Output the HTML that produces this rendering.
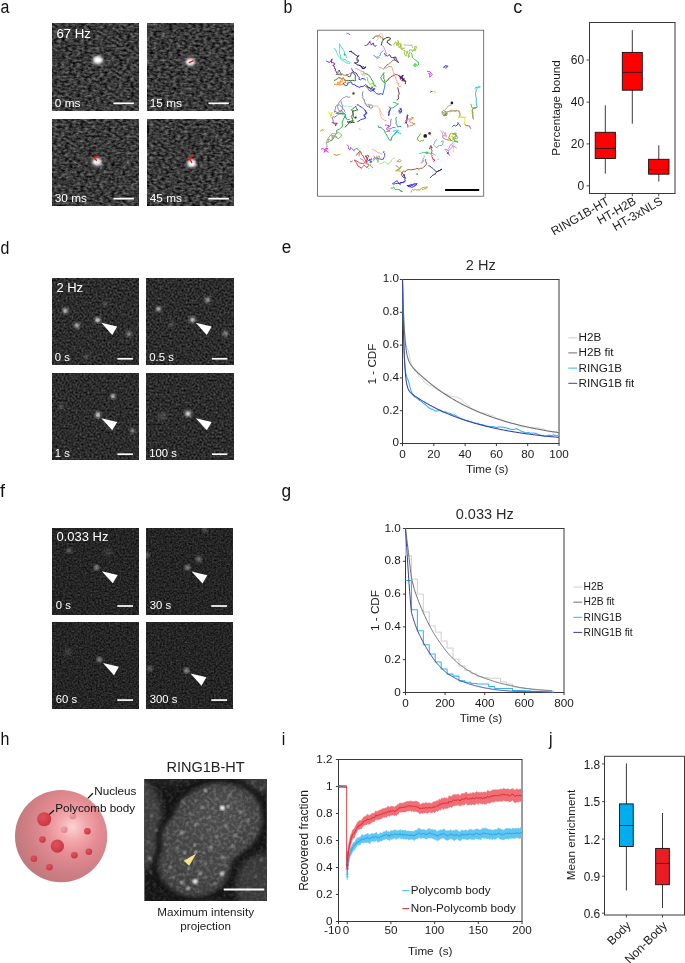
<!DOCTYPE html>
<html><head><meta charset="utf-8"><title>Figure</title>
<style>
html,body{margin:0;padding:0;background:#fff;}
body{width:685px;height:963px;overflow:hidden;font-family:"Liberation Sans",sans-serif;}
svg{display:block;font-family:"Liberation Sans",sans-serif;will-change:transform;}
</style></head><body>
<svg width="685" height="963" viewBox="0 0 685 963">
<rect width="685" height="963" fill="#fff"/>
<defs>
<filter id="nzA" x="0" y="0" width="100%" height="100%" color-interpolation-filters="sRGB">
<feTurbulence type="fractalNoise" baseFrequency="0.26 0.42" numOctaves="2" seed="3" result="t"/>
<feColorMatrix in="t" type="matrix" values="0.65 0 0 0 -0.10  0.65 0 0 0 -0.10  0.65 0 0 0 -0.10  0 0 0 0 1"/>
</filter>
<filter id="nzD" x="0" y="0" width="100%" height="100%" color-interpolation-filters="sRGB">
<feTurbulence type="fractalNoise" baseFrequency="0.5" numOctaves="2" seed="7" result="t"/>
<feColorMatrix in="t" type="matrix" values="0.44 0 0 0 -0.047  0.44 0 0 0 -0.047  0.44 0 0 0 -0.047  0 0 0 0 1"/>
</filter>
<filter id="nzF" x="0" y="0" width="100%" height="100%" color-interpolation-filters="sRGB">
<feTurbulence type="fractalNoise" baseFrequency="0.55" numOctaves="2" seed="11" result="t"/>
<feColorMatrix in="t" type="matrix" values="0.3 0 0 0 -0.005  0.3 0 0 0 -0.005  0.3 0 0 0 -0.005  0 0 0 0 1"/>
</filter>
<filter id="nzH" x="0" y="0" width="100%" height="100%" color-interpolation-filters="sRGB">
<feTurbulence type="fractalNoise" baseFrequency="0.3" numOctaves="2" seed="5" result="t"/>
<feColorMatrix in="t" type="matrix" values="0 0 0 0 1  0 0 0 0 1  0 0 0 0 1  2.2 0 0 0 -0.9"/>
<feGaussianBlur stdDeviation="0.7"/>
</filter>
<filter id="b1"><feGaussianBlur stdDeviation="1"/></filter>
<filter id="b15"><feGaussianBlur stdDeviation="1.5"/></filter>
<filter id="b2"><feGaussianBlur stdDeviation="2"/></filter>
<filter id="b3"><feGaussianBlur stdDeviation="3"/></filter>
<filter id="b08"><feGaussianBlur stdDeviation="0.8"/></filter>
<filter id="b06"><feGaussianBlur stdDeviation="0.6"/></filter>
<radialGradient id="sph" cx="72.3" cy="827" r="60" fx="72.3" fy="827" gradientUnits="userSpaceOnUse">
<stop offset="0" stop-color="#fbd3d3"/>
<stop offset="0.22" stop-color="#f3a9ad"/>
<stop offset="0.45" stop-color="#e58d94"/>
<stop offset="0.75" stop-color="#d07f85"/>
<stop offset="1" stop-color="#c0787c"/>
</radialGradient>
<radialGradient id="spot" cx="0.4" cy="0.35" r="0.7">
<stop offset="0" stop-color="#e0525c"/>
<stop offset="1" stop-color="#c63540"/>
</radialGradient>
<radialGradient id="spotp" cx="0.4" cy="0.35" r="0.7">
<stop offset="0" stop-color="#f2a0a6"/>
<stop offset="1" stop-color="#e07f88"/>
</radialGradient>
</defs>
<text transform="translate(0.4 13.1) scale(0.84 1)" font-size="19" fill="#111">a</text>
<text transform="translate(283.4 13.1) scale(0.84 1)" font-size="19" fill="#111">b</text>
<text transform="translate(513.3 13.1) scale(0.95 1)" font-size="19" fill="#111">c</text>
<text transform="translate(0.4 253.5) scale(0.84 1)" font-size="19" fill="#111">d</text>
<text transform="translate(281.8 253.3) scale(0.9 1)" font-size="19" fill="#111">e</text>
<text transform="translate(0 497.1) scale(0.95 1)" font-size="19" fill="#111">f</text>
<text transform="translate(281.6 497.3) scale(0.91 1)" font-size="19" fill="#111">g</text>
<text transform="translate(0.4 745) scale(0.84 1)" font-size="19" fill="#111">h</text>
<text transform="translate(281.7 745) scale(0.84 1)" font-size="19" fill="#111">i</text>
<text transform="translate(549 745) scale(0.84 1)" font-size="19" fill="#111">j</text>
<rect x="52" y="23.7" width="87" height="86.6" fill="#000" stroke="none" stroke-width="0.7" filter="url(#nzA)"/>
<text x="54.8" y="106.7" font-size="11.8" text-anchor="start" fill="#fff">0 ms</text>
<line x1="113.4" y1="103.3" x2="133.9" y2="103.3" stroke="#fff" stroke-width="1.75"/>
<rect x="147" y="23.7" width="87" height="86.6" fill="#000" stroke="none" stroke-width="0.7" filter="url(#nzA)"/>
<text x="149.8" y="106.7" font-size="11.8" text-anchor="start" fill="#fff">15 ms</text>
<line x1="208.4" y1="103.3" x2="228.9" y2="103.3" stroke="#fff" stroke-width="1.75"/>
<rect x="52" y="119.06" width="87" height="86.6" fill="#000" stroke="none" stroke-width="0.7" filter="url(#nzA)"/>
<text x="54.8" y="202.06" font-size="11.8" text-anchor="start" fill="#fff">30 ms</text>
<line x1="113.4" y1="198.66" x2="133.9" y2="198.66" stroke="#fff" stroke-width="1.75"/>
<rect x="147" y="119.06" width="87" height="86.6" fill="#000" stroke="none" stroke-width="0.7" filter="url(#nzA)"/>
<text x="149.8" y="202.06" font-size="11.8" text-anchor="start" fill="#fff">45 ms</text>
<line x1="208.4" y1="198.66" x2="228.9" y2="198.66" stroke="#fff" stroke-width="1.75"/>
<text x="56.4" y="37.7" font-size="13.2" text-anchor="start" fill="#fff">67 Hz</text>
<ellipse cx="97.9" cy="60" rx="5.7" ry="4.6" fill="#fff" opacity="0.6" filter="url(#b15)"/>
<ellipse cx="97.9" cy="60" rx="3.9" ry="3" fill="#fff" filter="url(#b1)"/>
<ellipse cx="190.2" cy="62" rx="5.5" ry="4.3" fill="#fff" opacity="0.6" filter="url(#b15)"/>
<ellipse cx="190.2" cy="62" rx="3.7" ry="2.7" fill="#fff" filter="url(#b1)"/>
<ellipse cx="97" cy="161.8" rx="5.3" ry="4.4" fill="#fff" opacity="0.6" filter="url(#b15)"/>
<ellipse cx="97" cy="161.8" rx="3.5" ry="2.8" fill="#fff" filter="url(#b1)"/>
<ellipse cx="191.7" cy="163.4" rx="5.1" ry="4.5" fill="#fff" opacity="0.6" filter="url(#b15)"/>
<ellipse cx="191.7" cy="163.4" rx="3.3" ry="2.9" fill="#fff" filter="url(#b1)"/>
<path d="M189.2 62.7 L193 60.8" stroke="#f0141e" stroke-width="1.5" fill="none" stroke-linejoin="round" stroke-linecap="round"/>
<path d="M98 156.1 L94.2 158.2 L96.4 160.3" stroke="#f0141e" stroke-width="1.4" fill="none" stroke-linejoin="round" stroke-linecap="round"/>
<path d="M192.7 156.1 L189.2 158.2 L191.7 162.5" stroke="#f0141e" stroke-width="1.4" fill="none" stroke-linejoin="round" stroke-linecap="round"/>
<rect x="52" y="278.5" width="86.8" height="86" fill="#000" stroke="none" stroke-width="0.7" filter="url(#nzD)"/>
<text x="54.8" y="361.3" font-size="11.3" text-anchor="start" fill="#fff">0 s</text>
<line x1="117.4" y1="358.8" x2="132.9" y2="358.8" stroke="#fff" stroke-width="1.7"/>
<rect x="146.5" y="278.5" width="86.8" height="86" fill="#000" stroke="none" stroke-width="0.7" filter="url(#nzD)"/>
<text x="149.3" y="361.3" font-size="11.3" text-anchor="start" fill="#fff">0.5 s</text>
<line x1="211.9" y1="358.8" x2="227.4" y2="358.8" stroke="#fff" stroke-width="1.7"/>
<rect x="52" y="373.9" width="86.8" height="86" fill="#000" stroke="none" stroke-width="0.7" filter="url(#nzD)"/>
<text x="54.8" y="456.7" font-size="11.3" text-anchor="start" fill="#fff">1 s</text>
<line x1="117.4" y1="454.2" x2="132.9" y2="454.2" stroke="#fff" stroke-width="1.7"/>
<rect x="146.5" y="373.9" width="86.8" height="86" fill="#000" stroke="none" stroke-width="0.7" filter="url(#nzD)"/>
<text x="149.3" y="456.7" font-size="11.3" text-anchor="start" fill="#fff">100 s</text>
<line x1="211.9" y1="454.2" x2="227.4" y2="454.2" stroke="#fff" stroke-width="1.7"/>
<text x="56.4" y="291.9" font-size="13" text-anchor="start" fill="#fff">2 Hz</text>
<clipPath id="c48"><rect x="52" y="278.5" width="86.8" height="86"/></clipPath><g clip-path="url(#c48)">
<circle cx="65.3" cy="310.7" r="3.3" fill="#fff" opacity="0.32" filter="url(#b15)"/>
<circle cx="65.3" cy="310.7" r="1.7" fill="#fff" opacity="0.75" filter="url(#b08)"/>
<circle cx="77" cy="325.5" r="3.3" fill="#fff" opacity="0.29" filter="url(#b15)"/>
<circle cx="77" cy="325.5" r="1.7" fill="#fff" opacity="0.7" filter="url(#b08)"/>
<circle cx="97.7" cy="320" r="3.3" fill="#fff" opacity="0.42" filter="url(#b15)"/>
<circle cx="97.7" cy="320" r="1.5" fill="#fff" opacity="1" filter="url(#b08)"/>
<circle cx="129" cy="333.8" r="3.6" fill="#fff" opacity="0.21" filter="url(#b15)"/>
<circle cx="129" cy="333.8" r="1.4" fill="#fff" opacity="0.5" filter="url(#b08)"/>
<circle cx="86" cy="356.5" r="3.5" fill="#fff" opacity="0.08" filter="url(#b15)"/>
<circle cx="86" cy="356.5" r="1.5" fill="#fff" opacity="0.2" filter="url(#b08)"/>
<circle cx="105" cy="303.5" r="4" fill="#fff" opacity="0.05" filter="url(#b15)"/>
<circle cx="105" cy="303.5" r="2" fill="#fff" opacity="0.12" filter="url(#b08)"/>
<polygon points="101.3,322.8 112.28,334.9 117.2,326.54" fill="#fff"/>
</g>
<clipPath id="c63"><rect x="146.5" y="278.5" width="86.8" height="86"/></clipPath><g clip-path="url(#c63)">
<circle cx="158.5" cy="309" r="3.3" fill="#fff" opacity="0.27" filter="url(#b15)"/>
<circle cx="158.5" cy="309" r="1.7" fill="#fff" opacity="0.65" filter="url(#b08)"/>
<circle cx="207.5" cy="300" r="3.5" fill="#fff" opacity="0.25" filter="url(#b15)"/>
<circle cx="207.5" cy="300" r="1.5" fill="#fff" opacity="0.6" filter="url(#b08)"/>
<circle cx="192.5" cy="319.8" r="3.3" fill="#fff" opacity="0.4" filter="url(#b15)"/>
<circle cx="192.5" cy="319.8" r="1.5" fill="#fff" opacity="0.95" filter="url(#b08)"/>
<circle cx="225.5" cy="333.5" r="3.6" fill="#fff" opacity="0.21" filter="url(#b15)"/>
<circle cx="225.5" cy="333.5" r="1.5" fill="#fff" opacity="0.5" filter="url(#b08)"/>
<circle cx="171.5" cy="324.5" r="3.6" fill="#fff" opacity="0.08" filter="url(#b15)"/>
<circle cx="171.5" cy="324.5" r="1.6" fill="#fff" opacity="0.2" filter="url(#b08)"/>
<polygon points="195.8,322.8 206.78,334.9 211.7,326.54" fill="#fff"/>
</g>
<clipPath id="c76"><rect x="52" y="373.9" width="86.8" height="86"/></clipPath><g clip-path="url(#c76)">
<circle cx="113" cy="396.4" r="2.8" fill="#fff" opacity="0.38" filter="url(#b15)"/>
<circle cx="113" cy="396.4" r="1.3" fill="#fff" opacity="0.9" filter="url(#b08)"/>
<circle cx="98" cy="414.9" r="3.3" fill="#fff" opacity="0.4" filter="url(#b15)"/>
<circle cx="98" cy="414.9" r="1.6" fill="#fff" opacity="0.95" filter="url(#b08)"/>
<circle cx="132.5" cy="430.9" r="3.2" fill="#fff" opacity="0.21" filter="url(#b15)"/>
<circle cx="132.5" cy="430.9" r="1.3" fill="#fff" opacity="0.5" filter="url(#b08)"/>
<circle cx="61" cy="405.9" r="4" fill="#fff" opacity="0.06" filter="url(#b15)"/>
<circle cx="61" cy="405.9" r="2" fill="#fff" opacity="0.15" filter="url(#b08)"/>
<polygon points="101.3,418.2 112.28,430.3 117.2,421.94" fill="#fff"/>
</g>
<clipPath id="c87"><rect x="146.5" y="373.9" width="86.8" height="86"/></clipPath><g clip-path="url(#c87)">
<circle cx="188" cy="413.7" r="3.6" fill="#fff" opacity="0.42" filter="url(#b15)"/>
<circle cx="188" cy="413.7" r="1.7" fill="#fff" opacity="1" filter="url(#b08)"/>
<circle cx="162.5" cy="415.9" r="6" fill="#fff" opacity="0.05" filter="url(#b15)"/>
<circle cx="162.5" cy="415.9" r="3" fill="#fff" opacity="0.12" filter="url(#b08)"/>
<polygon points="195.8,418.2 206.78,430.3 211.7,421.94" fill="#fff"/>
</g>
<rect x="52" y="528" width="86.9" height="86.6" fill="#000" stroke="none" stroke-width="0.7" filter="url(#nzF)"/>
<text x="55.8" y="609.2" font-size="11.3" text-anchor="start" fill="#fff">0 s</text>
<line x1="117.3" y1="606" x2="133" y2="606" stroke="#fff" stroke-width="1.7"/>
<rect x="146" y="528" width="86.9" height="86.6" fill="#000" stroke="none" stroke-width="0.7" filter="url(#nzF)"/>
<text x="149.8" y="609.2" font-size="11.3" text-anchor="start" fill="#fff">30 s</text>
<line x1="211.3" y1="606" x2="227" y2="606" stroke="#fff" stroke-width="1.7"/>
<rect x="52" y="622.07" width="86.9" height="86.6" fill="#000" stroke="none" stroke-width="0.7" filter="url(#nzF)"/>
<text x="55.8" y="703.27" font-size="11.3" text-anchor="start" fill="#fff">60 s</text>
<line x1="117.3" y1="700.07" x2="133" y2="700.07" stroke="#fff" stroke-width="1.7"/>
<rect x="146" y="622.07" width="86.9" height="86.6" fill="#000" stroke="none" stroke-width="0.7" filter="url(#nzF)"/>
<text x="149.8" y="703.27" font-size="11.3" text-anchor="start" fill="#fff">300 s</text>
<line x1="211.3" y1="700.07" x2="227" y2="700.07" stroke="#fff" stroke-width="1.7"/>
<text x="56.4" y="541.2" font-size="13" text-anchor="start" fill="#fff">0.033 Hz</text>
<clipPath id="c107"><rect x="52" y="528" width="86.9" height="86.6"/></clipPath><g clip-path="url(#c107)">
<circle cx="69" cy="550.5" r="2.6" fill="#fff" opacity="0.3" filter="url(#b15)"/>
<circle cx="96.5" cy="567.5" r="2.6" fill="#fff" opacity="0.5" filter="url(#b15)"/>
<circle cx="108" cy="552" r="4" fill="#fff" opacity="0.1" filter="url(#b15)"/>
<polygon points="101.8,571.2 112.78,583.3 117.7,574.94" fill="#fff"/>
</g>
<clipPath id="c113"><rect x="146" y="528" width="86.9" height="86.6"/></clipPath><g clip-path="url(#c113)">
<circle cx="187.5" cy="567.5" r="2.6" fill="#fff" opacity="0.5" filter="url(#b15)"/>
<circle cx="199" cy="559" r="2.6" fill="#fff" opacity="0.42" filter="url(#b15)"/>
<circle cx="147" cy="555" r="2.6" fill="#fff" opacity="0.3" filter="url(#b15)"/>
<circle cx="205" cy="529.5" r="2.6" fill="#fff" opacity="0.25" filter="url(#b15)"/>
<polygon points="191.5,571.5 202.48,583.6 207.4,575.24" fill="#fff"/>
</g>
<clipPath id="c120"><rect x="52" y="622.07" width="86.9" height="86.6"/></clipPath><g clip-path="url(#c120)">
<circle cx="99.5" cy="659.57" r="2.6" fill="#fff" opacity="0.5" filter="url(#b15)"/>
<circle cx="68" cy="652.07" r="4" fill="#fff" opacity="0.1" filter="url(#b15)"/>
<polygon points="103,663.07 113.98,675.17 118.9,666.81" fill="#fff"/>
</g>
<clipPath id="c125"><rect x="146" y="622.07" width="86.9" height="86.6"/></clipPath><g clip-path="url(#c125)">
<circle cx="186.5" cy="670.57" r="2.6" fill="#fff" opacity="0.55" filter="url(#b15)"/>
<circle cx="150" cy="668.57" r="2.6" fill="#fff" opacity="0.3" filter="url(#b15)"/>
<polygon points="190.5,673.57 201.48,685.67 206.4,677.31" fill="#fff"/>
</g>
<rect x="317.6" y="30.2" width="166.1" height="166" fill="none" stroke="#555" stroke-width="0.8"/>
<g fill="none" stroke-width="0.95" stroke-linejoin="round" stroke-linecap="round">
<path d="M346.93 33.26 L347.66 33.45 L348.5 33.78 L349.82 34.57" stroke="#9b30ff"/>
<path d="M334.71 48.37 L335.32 49.95 L335.97 50.42 L336.81 52.21 L337.25 53.66 L338.08 55.38 L338.65 56.25 L339.78 57.39 L340.12 58.05 L341.28 59.53 L342.36 60.75 L343.26 60.94 L344.44 61.15 L345.22 62.42 L346.5 63.05 L348.35 63.21 L349.42 63.74 L350.21 62.42 L349.13 62.08 L348.06 61.12 L346.53 61.11 L345.65 59.79 L343.35 59.39 L343.25 58.88 L341.59 58.75 L340.62 57.96 L340.61 56.23 L340.42 55.05 L339.8 54.06 L339.61 53.22 L339.31 51.65 L339.63 50.21 L339.71 48.68 L339.31 46.65 L339.44 45.53 L339.7 43.77 L340.35 45.97 L340.88 45.98 L341.93 47.71 L342.88 49.56 L343.44 50.65 L344.45 51.61 L344.56 52.96 L344.51 53.91 L345.91 54.71 L346.05 56.51 L346.53 57.56" stroke="#40e0b0"/>
<path d="M349.42 51.65 L350.16 51.6 L351.13 50.99 L352.45 52.97 L353.56 52.95 L354.42 54.28 L355.08 54.62 L356.53 55.38 L357.04 56.25 L358 56.2 L359.02 55.59 L358.08 56.57 L357 57.37 L357.04 58.88 L357.05 60.22 L357.94 61.23 L357.7 62.42 L356.71 62.62 L355.92 63.03 L354.42 62.82 L355.4 63.09 L356.51 64.28 L357.04 64.79 L358.82 65.22 L360.41 65.53 L360.99 66.1 L362.25 66.8 L362.3 67.42 L363.2 66.77 L364.43 67.52 L365.58 66.76 L365.24 68.01 L364.27 68.73 L362.05 68.34 L361.64 67.42 L360.87 66.22 L359.67 65.45" stroke="#1a0a5a"/>
<path d="M326.56 61.11 L327.77 61.77 L329.45 62.42 L330.98 60.84 L331.04 60.58 L332.08 58.88 L331.69 60.05 L331.68 61.03 L331.42 62.82 L332.6 62.49 L333.95 63.08 L334.71 63.21 L334.59 64.44 L332.74 65.45 L334.11 65.94 L334.45 67.42 L334.71 68.63 L335.72 68.97 L335.37 70.7 L336.4 71.91 L336.68 72.67" stroke="#5a20c0"/>
<path d="M336.68 74.25 L337.92 73.47 L338.01 71.95 L338.18 71.17 L339.31 70.04 L339.89 71.96 L340.39 72.47 L340.68 73.34 L341.93 74.64 L340.72 74.86 L339.86 74.43 L337.57 74.52 L336.68 74.25" stroke="#2a6a2a"/>
<path d="M334.45 80.29 L335.69 79.82 L336.28 79.41 L337.63 78.59 L338.65 77.66 L340.67 78.2 L341.82 79.1 L343.25 78.58 L344.44 79.13 L345.48 80.46 L346.53 80.56 L348.11 80.75 L350.05 80.36 L350.48 80.67 L352.75 80.32 L354.53 80.79 L355.73 80.56 L355.19 79.27 L355.33 77.04 L355.41 76.1 L355.07 74.64 L353.91 73.97 L353.51 72.67 L352.45 72.02 L351.94 73.55 L350.86 74.46 L350.48 76.33 L349.82 76.61 L348.02 76.44 L347.51 75.7 L346.53 75.3" stroke="#2a6a2a"/>
<path d="M334.45 84.23 L336.57 84.32 L338.1 84.24 L338.65 84.5 L339.88 83.43 L340.58 82.77 L341.93 81.87 L342.27 80.41 L342.01 79.56 L343.25 77.27 L343.84 79.25 L344.56 79.9 L344.84 81 L345.88 81.87 L346.2 82.2 L343.56 82.98 L343.25 83.84 L342.33 84.54 L341.55 84.62 L339.96 85.15 L338.48 84.33 L338.68 84.02 L337.34 83.18 L337.58 82.35 L339.84 82.35 L340.51 80.84 L341.28 79.9" stroke="#ff7f0e"/>
<path d="M336.02 74.64 L336.86 74.16 L338.67 74.51 L340.18 73.97 L341.28 73.99 L342.37 74.13 L343.9 75.11 L345.88 75.3 L346.31 74.52 L348.68 74.56 L349.82 73.33 L350.94 73.27 L351.86 72.17 L353.1 72.02" stroke="#c07070"/>
<path d="M343.25 83.18 L343.87 84.64 L345.38 85.12 L345.88 85.81 L347.8 84.7 L347.43 83.74 L347.85 82.53 L348.75 83.08 L349.82 81.87 L351.49 82.21 L351.86 83.78 L353.1 84.5 L354.71 84.64 L354.87 85.09 L357.02 86.43 L358.49 86.83 L359.67 87.78 L360.39 86.36 L362.16 86.61 L363.6 86.11 L364.33 85.67 L365.58 84.5 L366.52 85.07 L367.36 85.92 L367.72 87.02 L369.53 87.78 L370.72 88.3 L371.44 89.24 L372.81 89.75 L374.45 89.11 L374.78 88.44 L373.93 89.53 L373.47 91.07 L374.54 91.46 L375.61 92.84 L376.75 93.69 L378.93 94.22 L380.1 93.75 L381.44 93.75 L382.67 94.35" stroke="#3030f0"/>
<path d="M382.67 94.35 L383.22 92.98 L383.25 92.05 L383.98 89.75 L384.46 87.72 L384.71 86.97 L384.77 85.99 L385.18 83.72 L385.29 83.18" stroke="#2070e0"/>
<path d="M351.79 68.73 L352.22 70.34 L354.04 72.08 L354.42 72.67 L356.2 72.99 L356.9 74.13 L357.7 75.96 L359.19 77.37 L359.02 79.35 L360.33 79.9 L361.89 78.52 L362.96 78.58 L364.38 78.96 L365.58 79.9" stroke="#3030f0"/>
<path d="M366.9 86.47 L368.04 87.17 L369.61 87.68 L370.18 89.1 L371.29 88.8 L372.15 87.12 L372.5 88.08 L373.54 88.61 L374.12 89.75 L373.28 90.01 L371.58 90.86 L370.84 90.41" stroke="#3030f0"/>
<path d="M366.9 77.27 L367.64 78.74 L367.53 80.04 L368.21 81.87 L369.34 82.69 L369.7 83.55 L370.18 84.5 L371.51 84.02 L372.66 83.55 L373.47 83.18 L374.44 84.31 L374.74 84.61 L375.44 85.81 L373.77 85.75 L372.44 86.58 L371.5 86.47" stroke="#80e020"/>
<path d="M364.27 72.67 L365.4 73.93 L367.44 74 L367.13 74.5 L368.87 75.3 L369.63 75.79 L370.35 77.51 L371.06 78.16 L371.73 80.18 L372.81 80.56 L372.97 81.55 L373.11 83.55 L373.47 84.5 L374.08 85.34 L375.5 86.1 L376.1 86.47" stroke="#30a040"/>
<path d="M365.58 86.47 L366.99 87.13 L367.77 87.92 L368.21 89.1 L368.94 90.43 L370.28 90.85 L370.84 91.72" stroke="#8a6a20"/>
<path d="M334.71 112.09 L334.65 110.99 L335.26 109.11 L335.64 108.24 L335.48 106.97 L336.68 105.52 L337.57 104.31 L338.72 103.78 L338.91 102.31 L339.96 101.58 L341.05 100.02 L341.48 99.37 L342.45 98.7 L343.25 97.64 L344.36 97.63 L345.53 96.64 L346.53 96.32 L347.17 96.82 L348.92 97.31 L349.82 96.98" stroke="#9080c0"/>
<path d="M341.28 101.58 L341.32 102.9 L341.91 104.17 L342.27 104.87 L342.59 106.83 L342.41 108.4 L342.04 110.32 L340.99 110.76 L340.62 112.09 L339.8 111.51 L338.32 109.65 L337.6 107.17 L337.34 106.83 L337.55 105.32 L339.31 104.86 L340.7 105.68 L341.19 106.72 L342.5 107.89 L343.25 109.46 L344.41 109.96 L344.27 111.26 L345.22 112.09" stroke="#9080c0"/>
<path d="M343.25 105.52 L344.79 106.5 L346.36 105.94 L347.85 106.83 L348.95 106.4 L350.75 106.54 L351.79 106.18" stroke="#b0e0e0"/>
<path d="M328.8 112.09 L329.41 113.51 L329.91 114.23 L330.77 115.37 L331.27 114.86 L331.61 113.05 L332.08 112.09 L331.33 113.44 L331.16 114.41 L331.03 115.37 L330.31 116.76 L331.03 117.34" stroke="#e0e000"/>
<path d="M336.02 113.4 L336.83 113.17 L339.05 113.03 L339.93 113.63 L341.28 113.67 L342.21 114.53 L344.48 113.62 L345.22 114.72 L344.89 116.12 L345.16 116.76 L345.88 118" stroke="#20c040"/>
<path d="M351.13 110.12 L352.33 109.4 L353.35 108.18 L354.29 107.65 L355.73 106.18 L356.2 107.62 L356.85 108.84 L357.7 110.12 L356.32 110.22 L354.69 110.75 L354.3 110.7 L352.45 110.77 L352.89 112.41 L353.13 113.52 L353.02 115.04 L353.1 116.03 L353.79 116.65 L354.42 118" stroke="#2a6a2a"/>
<path d="M357.04 104.86 L358.37 104.8 L359.67 106.33 L360.99 106.83 L362.55 107.77 L363.53 108.58 L364.27 109.46 L364.76 110.24 L365.65 111.57 L366.9 113.4 L366.26 113.98 L365.36 114.74 L364.27 115.37 L365.32 117.09 L365.58 118" stroke="#3030f0"/>
<path d="M362.96 91.72 L362.55 93.1 L362.43 94.06 L362.72 96.61 L362.3 97.64 L362.95 98.6 L364.03 99.04 L364.34 101.14 L364.93 102.23 L365.37 104.08 L366.61 104.76 L366.9 106.18 L367.96 106.69 L368.89 106.99 L370.18 108.15 L372.02 107.88 L372.81 106.83 L372.13 105.43 L370.84 104.86 L370.32 105.29 L368.21 104.21 L368.94 105.18 L369.53 106.83" stroke="#7080a0"/>
<path d="M367.56 104.21 L368.54 104.69 L369.84 104.85 L371.91 104.62 L372.81 105.52 L374.89 106.44 L374.97 105.64 L376.65 106.11 L378.07 106.83 L378.84 107.17 L379.73 110.15 L380.69 110.77 L380.93 111.82 L381.44 113.32 L382.58 114.96 L383.32 115.37" stroke="#f0c0a0"/>
<path d="M393.18 102.23 L394.57 102.52 L396.01 102.9 L396.61 103.63 L398.43 103.94 L397.05 104.82 L395.95 105.37 L394.65 107.03 L392.76 107.84 L391.77 107.7 L390.55 108.8 L389.89 110.12" stroke="#20c060"/>
<path d="M389.23 106.83 L390.38 108.21 L390.19 109.77 L389.89 110.77 L388.82 112.35 L388.82 113.33 L388.58 115.37" stroke="#3030c0"/>
<path d="M399.09 112.09 L399.07 110.81 L400.63 109.61 L401.06 108.15 L401.16 109.16 L401.12 110.56 L401.72 112.09 L400.01 112.01 L399.09 112.09" stroke="#6060e0"/>
<path d="M397.77 87.78 L398.09 88.76 L398.34 90.12 L398.76 91.92 L399.09 93.04 L398.99 94.69 L398.13 95.85 L398.7 97.72 L398.43 98.95 L397.17 99.54 L397.12 100" stroke="#503030"/>
<path d="M383.98 72.67 L383.62 73.75 L382.3 75.14 L381.61 76.38 L380.69 77.27 L381.16 78.42 L381.27 79.4 L382.01 80.56 L383.36 81.35 L383.7 82.12 L384.64 83.18 L384.72 81.33 L384.54 79.76 L383.58 78.66 L383.81 77.16 L383.94 75.36 L383.32 73.99" stroke="#20a020"/>
<path d="M385.95 81.87 L386.99 80.43 L388.18 79.92 L388.58 78.58 L390.1 77.78 L390.91 76.71 L392.52 75.96 L394.02 75.51 L395.19 74.56 L396.46 74.64 L397.62 74.82 L398.24 75.46 L399.75 75.96" stroke="#d02020"/>
<path d="M399.09 75.96 L399.48 76.66 L401.6 76.81 L402.37 77.27 L401.01 77.9 L400.4 79.24 L401.66 78.1 L403.1 79.06 L404.34 78.58 L403.35 79.05 L402.66 80.03 L401.72 80.56 L403.23 80.78 L403.64 80.82 L405 81.21" stroke="#201080"/>
<path d="M378.72 66.76 L379.94 68.01 L380.9 67.67 L381.84 67.93 L383.32 69.39 L384.6 68.38 L385.15 67.65 L386.35 68.13 L387.92 67.42 L388.52 66.31 L390.18 66.41 L391.21 66.1 L391.86 67.53 L392.19 67.91 L392.64 69.74 L393.18 70.7 L393.17 71.47 L394.03 73.17 L393.83 74.64 L394.33 75.74 L395.54 76.93 L395.8 77.93 L396.01 79.5 L397.28 81.08 L397.05 81.44 L397.12 83.18 L399.2 83.82 L398.29 85.11 L399.09 86.47 L400.69 86.3 L401.06 85.81" stroke="#e0a080"/>
<path d="M383.98 68.07 L384.59 67.19 L386.49 65.98 L386.96 64.84 L388.58 64.13 L389.51 63.26 L390.57 62.66 L391.86 61.5 L392.82 60.19 L394.49 60.19" stroke="#708050"/>
<path d="M384.64 53.62 L385.34 55.12 L386.61 55.59 L387.48 56.26 L388.98 54.71 L389.89 54.93 L390.45 55.9 L391.2 57.59 L392.52 57.56 L393.24 57.6 L395.26 57.08 L395.8 56.91 L395.86 58.12 L396.82 59.87 L397.12 60.85 L397.8 61.3 L398.43 62.82 L397.35 61.47 L395.41 60.36 L395.15 59.53 L393.95 58.77 L393.83 57.56" stroke="#4a1a90"/>
<path d="M382.67 45.74 L384.06 47.54 L383.76 47.75 L384.64 49.02 L385.34 50.74 L385.35 51.6 L385.95 52.96 L386.57 54.02 L385.33 55.2 L385.29 56.25" stroke="#e070e0"/>
<path d="M373.86 55.59 L375.2 56.19 L376.1 57.56 L377.1 56.68 L378.18 57.4 L379.38 56.25 L380.32 54.9 L380.34 53.5 L381.35 52.31 L382.6 51.24 L383.06 50.6" stroke="#3090f0"/>
<path d="M376.75 58.88 L378.62 57.7 L379.38 57.56" stroke="#e080a0"/>
<path d="M364.93 45.34 L365.91 45.7 L366.35 45.18 L368.21 44.42 L368.17 43.29 L369.46 42.55 L370.18 41.14 L369.42 41.72 L370.84 43.78 L371.5 45.08 L372.14 44.01 L373.47 43.11 L373.46 44.05 L374.02 45.39 L374.78 46.39 L376.1 45.74" stroke="#6020c0"/>
<path d="M372.81 38.51 L374.02 38.07 L374.78 36.54 L375.63 36.2 L376.99 35.99 L378.07 35.88 L379.36 35.95 L380.84 36.85 L382.01 37.85 L382.3 38.24 L383.32 39.82" stroke="#607040"/>
<path d="M376.75 40.48 L377.69 39.28 L378.17 38.29 L377.58 36.62 L378.72 35.88 L379.67 34.72 L379.62 34.06 L380.69 33.26 L381.61 33.86 L382.67 35.23 L382.87 36.03 L383.32 37.2 L381.24 37.61 L380.82 38.13 L380.04 37.85 L379.38 36.16 L380.05 35.06 L379.38 34.57" stroke="#f0b090"/>
<path d="M381.35 45.08 L381.6 43.83 L382.21 41.5 L382.9 40.57 L383.32 39.17 L385.12 38.73 L385.95 37.85 L388.64 37.36 L389.01 37.71 L390.55 38.25 L390.1 39.61 L389.06 40.06 L387.6 40.63 L387 42.45 L388.7 43.3 L389 44.12 L390.44 44.79 L391.21 45.08" stroke="#303020"/>
<path d="M393.83 45.08 L393.87 43.71 L395.22 43.03 L395.8 41.8 L396.61 42.73 L396.73 45.26 L397.12 45.74 L397.55 44.75 L397.44 43.4 L398.3 41.84 L397.77 40.48 L398.5 41.59 L398.52 43.72 L398.28 45.24 L398.57 45.96 L399.09 47.71 L399.75 47.13 L400.52 45.44 L401.06 43.77 L400.95 45.11 L400.94 46.18 L401.87 47.69 L401.72 49.02 L403.36 48.51 L403.83 48.63 L405 47.71" stroke="#a0c030"/>
<path d="M355.73 68.73 L356.8 68.59 L358.85 69.76 L359.67 70.04 L360.16 70.5 L362.15 71.58 L363.61 71.36 L363.56 72.67 L363.71 74.02 L364.27 75.96" stroke="#c0a0b0"/>
<path d="M360.99 72.67 L361.38 73.44 L362.3 75.3 L362.7 74.03 L363.88 73.99" stroke="#f0c080"/>
<path d="M368.21 104.86 L368.61 105.78" stroke="#90e090"/>
<path d="M400 43.11 L399.76 44 L400.46 45.81 L400.52 47.73 L401.31 49.02 L402.39 49.3 L403.33 50.5 L404.6 50.34 L405.02 51.99 L404.27 53.04 L404.76 54.61 L405.91 56.25 L406.38 54.68 L406.77 53.23 L407.12 51.72 L407.23 50.99 L407.39 52.47 L407.96 53.57 L408.75 54.78 L408.11 55.2 L408.54 57.56 L409.48 55.85 L408.62 54.91 L409.8 52.87 L409.05 51.42 L409.85 49.68 L410.49 49.89 L412 50.18 L412.48 51.65 L413.35 50.51 L414.58 49.15 L414.45 47.71 L414.66 46.73 L416.42 46.39 L416.01 48.06 L415.92 48.72 L415.11 50.99 L414 50.7 L413.14 49.68" stroke="#90c030"/>
<path d="M403.94 44.42 L405.84 45.35 L406.42 45.28 L407.88 45.08 L409.85 45.45 L410.79 45.22 L411.82 44.82 L411.85 45.71 L412.48 47.71" stroke="#b0b0b0"/>
<path d="M411.17 52.96 L411.98 54.36 L412.03 55.81 L412.48 57.56 L413.43 58.53 L414.28 59.34 L415.77 60.19 L416.74 60.82 L417.24 61.8 L418.39 62.16 L418.89 63.03 L418.43 64.69 L417.74 65.45 L415.85 64.5 L415.74 64.43 L415.11 63.47 L415.4 64.75 L415.79 65.32 L415.77 66.76 L414.5 65.97 L413.8 66.1 L414.06 65.07 L414.45 64.13" stroke="#20d020"/>
<path d="M427.59 71.36 L428.97 71.41 L430.22 72.02 L431.22 73.24 L432.12 74.04 L432.19 74.64 L431.38 75.77 L430.67 76.15 L429.56 77.27 L429.75 76.61 L429.7 74.66 L428.64 73.33 L429.69 73.82 L430.48 73.99" stroke="#c030f0"/>
<path d="M443.36 67.42 L444.34 66.67 L445.33 65.45 L446.6 65.7 L447.96 66.1 L447.75 66.82 L446.23 67.75 L445.33 68.07 L444.73 67.53 L444.02 66.76 L445.3 66.1 L446.64 66.37" stroke="#5050e0"/>
<path d="M430.22 92.38 L431.19 91.49 L432.19 91.46" stroke="#7030d0"/>
<path d="M434.82 91.07 L435.21 92.38" stroke="#b0e040"/>
<path d="M474.89 88.44 L476.07 87.33 L477.43 87.41 L478.18 86.47 L479.4 86.63 L480.41 86.86 L479.49 87.78 L478.33 87.36 L476.86 88.44 L476.12 89.7 L476.34 91.04 L475.5 92.43 L475.55 93.69 L475.51 94.86 L475.94 96.77 L476.4 98.68 L476.35 100.12 L476.21 101.58 L476.21 102.54 L476.3 105.3 L476.78 105.44 L477.52 106.83 L476.4 107.05 L475.55 107.49" stroke="#20c0e0"/>
<path d="M470.95 104.21 L471.17 104.81 L471.45 106.3 L472.26 108.15 L473.75 107.67 L475.07 107.79 L476.86 107.49 L475.33 108.28 L474.09 108.45 L472.92 108.8 L472.2 110.59 L472.33 112.03 L472.26 113.4 L472.61 114.87 L472.78 116.32 L472.92 118" stroke="#909030"/>
<path d="M451.24 104.21 L450.6 105.55 L449.13 105.73 L447.37 106.91 L446.64 108.15 L445.63 109.24 L444.46 110.43 L443.89 110.14 L442.78 110.84 L442.04 112.75 L442.42 113.63 L443.13 114.81 L444.02 116.03" stroke="#b0a070"/>
<path d="M443.36 112.75 L444.52 112.19 L446.56 112.55 L446.87 112.24 L448.61 111.43 L449.31 110.89 L451.82 110.12 L452.77 110.27 L453.87 110.51 L455.13 110.58 L457.14 110.47 L457.78 111.14 L459.12 111.04 L459.19 111.97 L459.43 113.57 L459.95 114.42 L459.78 116.03" stroke="#b0a070"/>
<path d="M459.12 117.34 L460.27 117.47 L461.69 117.27 L463.06 117.08 L464.08 117.51 L465.69 117.34" stroke="#f0d020"/>
<path d="M400 76.61 L400.46 77.71 L401.83 77.44 L402.63 78.58 L403.72 79.63 L404.6 80.56 L403.57 80.67 L401.97 79.9" stroke="#d03020"/>
<path d="M400 77.93 L400.96 76.78 L401.96 75.8 L403.28 75.3 L402.56 76.5 L402.41 77.3 L401.97 78.58 L403 79.59 L404.41 79.94 L405.91 81.21 L405.53 82.43 L405.26 83.84" stroke="#201080"/>
<path d="M400 108.15 L400.38 109.45 L401.58 110.12 L401.44 111.12 L400.66 112.09" stroke="#3030e0"/>
<path d="M407.23 114.72 L407.41 116.01 L407.48 117.25 L407.62 118" stroke="#803090"/>
<path d="M411.82 117.34 L413.14 118" stroke="#f08040"/>
<path d="M400 86.47 L401.31 87.12" stroke="#f0c0a0"/>
<path d="M334.71 111.31 L336.43 111.78 L337.07 112.52 L337.99 112.63 L338.96 111.54 L340.53 110.72 L341.28 110.66 L342.94 111.97 L343.25 112.63 L341.92 113.3 L341.12 113.58 L338.62 114.37 L337.57 114.87 L336.33 115.96 L334.56 117.18 L332.95 116.74 L332.08 117.88 L332.66 119.34 L333.12 120.71 L333.39 122.48 L333.88 123.11 L334.89 124.43 L336.02 125.11" stroke="#9070c0"/>
<path d="M332.08 122.48 L333.21 122.94 L334.93 123.21 L336.36 123.27 L337.34 123.14 L336.97 123.82 L335.92 124.2 L335.37 125.77" stroke="#a02040"/>
<path d="M336.68 113.28 L338.37 113.11 L339.99 113.64 L340.9 113.14 L342.85 113.4 L344.56 113.68 L345.28 114.69 L345.88 116.57 L345.02 117.02 L343.31 119.03 L343.25 119.85 L342.49 121.09 L342.18 122.21 L342.31 124.03 L342.57 125.81 L341.93 127.08 L340.52 128.19 L339.73 128.88 L337.84 129.93 L336.68 130.37 L336.86 132.09 L336.37 133.67 L335.52 134.39 L334.71 136.28 L333.41 136.92 L332.32 137.37 L332.08 138.25" stroke="#20b030"/>
<path d="M344.56 116.57 L345.55 117.19 L346.08 117.81 L346.53 119.2 L347.66 119.72 L349.16 119.46" stroke="#20a090"/>
<path d="M353.1 111.31 L352.85 112.74 L353.09 114.43 L351.78 115.76 L351.79 116.57 L351.99 117.88 L352.67 119.6 L353.1 120.51 L351.2 121.01 L350.35 121.48 L348.59 121.88 L347.19 121.82 L348.37 122.39 L350.21 121.56 L351.68 122.29 L352.84 122.07 L354.42 122.48 L353.01 121.93 L352.43 122.05 L350.22 122.92 L349.16 122.48 L348.4 123.91 L347.77 124.66 L345.81 126.25 L345.22 127.08" stroke="#2a5a1a"/>
<path d="M364.93 110 L365.89 110.75 L365.76 112.22 L366.9 112.63 L366.02 112.98 L365.01 113.83 L363.61 115.26 L364.09 115.7 L364.69 116.69 L365.58 117.88 L364.04 118.65 L363.07 119.11 L362.06 119.22 L360.33 119.85 L359.05 120.91 L357.7 121.56" stroke="#3030f0"/>
<path d="M320.26 131.02 L321.89 130.38 L322.23 129.05 L323.08 130.29 L322.88 130.76 L323.93 129.71" stroke="#d0b020"/>
<path d="M359.15 128.79 L360.2 129.31" stroke="#90e050"/>
<path d="M326.82 147.45 L327.01 145.23 L326.72 144.46 L326.17 142.85 L326.68 141.5 L326.99 140.71 L327.97 138.83 L328.14 138.25 L329.21 136.89 L329.75 136.1 L330.97 134.55 L332.08 133.65 L333.1 133.98 L334.7 133.67 L336.02 134.31 L336.58 133.58 L337.93 132.59 L338.65 132.34 L339.71 133.34 L341.44 134.61 L341.28 136.28 L339.88 137.23 L338.75 138.34 L337.99 138.91 L337.58 137.88 L335.87 136.96 L334.71 136.28 L333.72 137.97 L333.08 138.23 L332.34 140.17 L330.77 140.88 L329.97 139.64 L328.8 138.91 L328.38 139.92 L328.1 141.41 L327.48 142.85 L327.82 142.28 L329.92 141.42 L330.98 140.16 L332.64 139.32 L333.39 138.25 L332.85 138.59 L332.02 136.56 L331.42 135.62 L333.4 135.64 L333.66 135.73 L335.57 136.84 L336.68 136.93" stroke="#90a070"/>
<path d="M321.31 149.15 L322.95 148.56 L324.42 149.45 L325.37 148.93 L327.03 148.98 L328.14 148.76 L327.29 148.57 L325.88 148.74 L324.85 149.42 L324.77 151.06 L324.2 152.31 L325.15 151.3 L326.17 150.07 L326.56 151.39 L328.14 152.04" stroke="#f020f0"/>
<path d="M334.05 154.41 L335.19 154.92 L336.68 155.33 L338.42 154.71 L339.31 154.67" stroke="#a09020"/>
<path d="M347.19 144.82 L348.3 146.18 L348.51 147.66 L348.69 148.99 L349.82 150.07 L350.17 149.15 L350.47 147.45 L351.38 148.13 L352.59 149.07 L352.99 149.84 L354.42 150.73" stroke="#a040f0"/>
<path d="M354.42 149.42 L356.21 148.72 L357.04 148.1 L357.53 149.36 L357.98 149.27 L359.51 151.13 L360.33 152.04 L359.97 153.02 L359.4 154.14 L359.02 155.99" stroke="#40c040"/>
<path d="M356.39 155.33 L357.46 153.73 L358.3 153.46 L358.68 152.17 L360.33 151.39 L361.38 153.29 L361.26 154.14 L362.11 154.82 L363.94 156.9 L363.78 158.04 L365.08 159.34 L365.58 160.58 L367.26 161.96 L366.09 162.77 L367.77 163.96 L368.87 165.18 L368.22 165.81 L367.14 167.45 L366.9 167.81 L366.25 166.68 L365.4 166.32 L364.27 165.18 L363.66 165.88 L362.38 167.14 L360.99 168.47 L360.44 167.25 L358.15 166.18 L357.35 164.94 L357.04 163.87 L356.15 162.4 L354.73 160.82 L354.42 159.93 L355.41 160.49 L357.53 161.51 L358.36 161.9 L359.49 162.88 L360.47 163.14 L362.23 163.47 L363.61 163.87 L364.73 162.3 L365.67 161.24 L367.16 159.81 L367.6 158.86 L367.55 157.82 L368.87 155.99 L367.37 155.14 L367 156.39 L365.58 155.99 L366.1 157.2 L367.17 158.88 L366.81 160.21 L367.56 161.24" stroke="#e03030"/>
<path d="M365.58 155.99 L365.93 156.92 L366.83 157.45 L367.6 159.9 L368.87 160.58 L369.33 159.72 L370.18 159.6 L371.5 158.61 L371.06 160.11 L370.58 160.8 L370.18 162.56 L370.8 162.55 L372.15 161.9 L371.26 161.32 L369.2 160.57 L369.53 159.27" stroke="#3070a0"/>
<path d="M350.21 161.24 L351.14 161.94 L352.45 160.98" stroke="#4090e0"/>
<path d="M372.55 149.15 L373.41 149.89 L374.9 150.27 L376.03 151.08 L376.75 152.04 L378.56 152.84 L379.57 152.75 L380.61 153.64 L382.01 154.02" stroke="#f0a0a0"/>
<path d="M383.98 151.39 L383.43 152.49 L384.77 153.53 L384.64 155.33 L384.68 156.4 L383.88 157.52 L383.32 159.27 L382.19 159.28 L381.13 159.46 L379.86 158.86 L378.07 158.61 L376.51 158.9 L375.38 158.01 L374.78 157.96" stroke="#4040e0"/>
<path d="M360.33 158.61 L361.7 159.44 L363.12 159.93 L363.61 160.58 L363.85 161.57 L365.43 162.64 L366.24 163.87" stroke="#d070e0"/>
<path d="M374.12 155.99 L374.44 157.42 L373.14 159.23 L373.47 160.58 L374.13 160.14 L375.76 157.86 L376.75 157.3" stroke="#d070e0"/>
<path d="M376.75 155.99 L377.43 158.2 L376.52 158.96 L377.72 159.99 L377.93 161.43 L378.07 162.56 L378.07 161.78 L378.08 160.67 L379.44 158.16 L379.12 157.84 L379.38 155.99 L378.21 156.58 L377.41 157.3" stroke="#a0b040"/>
<path d="M380.04 163.87 L381.03 163.82 L382.11 162.88 L383.69 162.31 L384.64 161.9 L385.62 162.26 L386.69 163.2 L388.58 164.53 L388.8 163.16 L390.44 162.36 L391.21 161.24 L391.99 159.76 L393.02 158.52 L394.49 157.96" stroke="#a0e080"/>
<path d="M370.18 164.53 L370.59 165.89 L371.4 166.72 L372.81 167.81" stroke="#40c040"/>
<path d="M380.04 110 L379.93 112.24 L379.62 112.7 L380.3 113.65 L380.68 115.31 L380.69 116.57 L381.16 117.61 L382.59 118.82 L383.32 119.2 L384.4 120.41 L385.95 120.51" stroke="#f0b0a0"/>
<path d="M389.23 110.66 L389.03 111.44 L389.17 113.69 L388.84 115.26" stroke="#3030e0"/>
<path d="M391.21 119.2 L390.71 120.87 L390.7 122.21 L390.68 123.42 L390.55 124.45 L390.15 125.95 L388.84 127.43 L388.58 128.39 L389.9 129.02 L391.39 128.42 L392.23 127.85 L393.87 127.42 L395.15 127.74" stroke="#7070c0"/>
<path d="M396.46 117.23 L395.85 118.66 L396.1 120.26 L396.39 121.51 L395.8 123.14 L396.72 124.4 L397.04 125.86 L397.77 127.08 L398.3 126.78 L400.4 126.42" stroke="#309090"/>
<path d="M385.29 125.11 L386.36 124.98 L387.2 125.38 L389.23 125.77 L387.65 127.19 L387.39 127.32 L386.61 129.05 L387.45 130 L388.57 130.26 L389.89 131.02 L388.66 131.19 L387.06 131.44 L386.61 131.68" stroke="#d030c0"/>
<path d="M378.07 125.77 L378.91 127.68 L380.09 127.17 L381.6 128.07 L382.37 128.59 L383.32 129.71 L384.73 130.78 L385.11 132.77 L385.67 133.65 L386.83 135.22 L387.01 136.35 L387.89 137.31 L388.82 139.37 L389.89 140.22 L391.29 140.16 L391.45 137.8 L391.89 137.68 L392.46 135.89 L393.83 134.96 L394.71 134.53 L395.64 133.19 L397.12 131.68" stroke="#20a050"/>
<path d="M393.18 131.02 L394.99 130.79 L395.98 130.11 L397.08 130.45 L398.43 130.37 L396.47 131.51 L396.6 131.69 L394.94 133.04 L394.49 134.31 L395.38 133.53 L396.32 132.61 L397.77 132.34 L399.21 132.81 L400.4 133.65" stroke="#20d0f0"/>
<path d="M397.12 161.24 L397.95 160.5 L399.04 159.87 L399.75 159.27 L400.73 160.3 L401.06 161.24 L400.08 161.72 L397.88 161.59 L397.12 161.24" stroke="#c0a080"/>
<path d="M395.8 165.84 L397.58 166.35 L397.98 167.46 L399.09 168.47 L400.13 168.01 L400.59 167.65 L401.72 166.5 L400.21 167.36 L399.74 169.08 L397.97 169.55 L397.07 169.57 L395.8 171.1 L396.97 170.64 L398.68 170.94 L400.4 171.1" stroke="#a0a020"/>
<path d="M401.72 172.41 L402.6 173.55 L403.63 174.73 L404.34 174.38 L403.27 175.67 L402.37 176.35 L403.84 177.58 L405 177.67" stroke="#802020"/>
<path d="M405 181.61 L403.38 182.42 L402.66 182.32 L400.54 183.28 L399.09 183.58 L397.61 183.3 L397.16 183.6 L395.81 183.54 L393.75 184.09 L392.52 183.84 L393.59 182.71 L394.55 182.37 L395.72 181.51 L397.12 180.69 L397.08 181.53 L398.69 182.59 L399.2 183.5 L400.4 184.89" stroke="#3030f0"/>
<path d="M391.21 188.18 L392.55 188.08 L393.83 186.86 L393.96 188.07 L395.15 189.49 L396.83 189.62 L397.74 189.32 L399.09 189.49 L400.19 190.11 L400.45 190.53 L402.37 191.46" stroke="#20c040"/>
<path d="M399.09 110 L399 111.37 L400.72 111.45 L401.06 112.63 L399.75 113.28" stroke="#7050e0"/>
<path d="M442.04 111.97 L443.01 114.22 L443.12 115.09 L444.02 115.91 L445.03 114.73 L445.35 113.51 L446.64 112.63 L447.97 111.42 L449.8 111.85 L451.25 111.48 L452.56 111.31 L455.01 110.63 L454.83 111.48 L457.39 110.78 L458.51 110.76 L459.12 111.05 L459.78 112.46 L460.3 114.49 L459.37 116.31 L459.78 116.57" stroke="#b0a070"/>
<path d="M458.47 117.23 L459.35 117.11 L461.78 116.95 L462.17 117.28 L463.9 117.37 L465.04 117.23 L464.62 118.75 L465.02 120.69 L464.77 121.09 L464.52 122.77 L464.38 124.45 L465.54 124.47 L465.69 125.77" stroke="#f0e020"/>
<path d="M472.26 110 L472.64 110.91 L473.08 112.92 L472.84 114.13 L472.92 115.26 L473.01 116.83 L473.34 118.16 L473.58 119.2" stroke="#90b030"/>
<path d="M452.56 126.42 L454.11 125.04 L455.43 126.12 L457.15 125.11 L458.03 123.84 L457.81 122.48 L458.64 123.67 L459.8 125.33 L460.44 126.42" stroke="#4040f0"/>
<path d="M465.69 125.11 L466.64 125.69 L468.32 125.77 L469.67 126.28 L470 127.69 L470.95 128.39" stroke="#9030f0"/>
<path d="M405.26 123.14 L405.97 121.67 L405.93 120.33 L406.72 119.36 L407 117.36 L407.03 116.81 L407.88 115.26 L407.16 116.66 L407.22 117.65 L407.11 119.83 L406.94 120.4 L406.57 121.82 L406.34 123.33 L407.66 124.68 L408 125.95 L407.88 127.08" stroke="#803090"/>
<path d="M407.88 119.85 L408.7 119.18 L410.71 118.81 L411.64 117.86 L413.14 117.23 L412.29 118.69 L411.55 119.44 L410.33 119.79 L409.2 121.17 L409.65 121.79 L411.34 122.63 L411.82 123.14 L413.13 122.79 L413.46 124 L415.11 123.8 L413.78 123.79 L412.82 124.88 L412.29 125.75 L409.85 125.77" stroke="#f08040"/>
<path d="M420.37 133.65 L419.84 134.78 L419.14 135.98 L417.85 137.55 L417.84 137.33 L417.08 139.56 L417.71 139.9 L419.21 140.86 L419.71 141.53 L421.59 140.49 L421.93 141.06 L423.65 140.22" stroke="#80a020"/>
<path d="M436.79 139.56 L435.72 140.31 L434.95 141.57 L434.53 143.44 L433.5 144.16 L433.78 145.15 L435.26 146.38 L436.13 147.45 L437.76 146.89 L438.54 145.81 L439.38 145.49 L441.39 145.38 L442.7 144.42 L442.78 144.12 L443.11 141.88 L443.36 140.88 L442.52 140.84 L441.39 141.53" stroke="#70a0f0"/>
<path d="M440.73 130.76 L441.47 131.08 L442.3 132.99 L442.78 134.13 L442.87 134.83 L444.02 136.28 L445.05 135.15 L444.66 133.81 L445.33 132.34 L445.92 134.61 L446.63 135.56 L446.64 136.93 L445.65 136.3 L444.96 133.98 L443.72 132.67 L443.36 131.68" stroke="#e090e0"/>
<path d="M442.7 135.62 L442.89 137.23 L443.36 138.25 L445.18 139.18 L446.37 139.55 L448.65 140.07 L449.27 140.22 L450.97 139.86 L451.18 140.37 L452.56 140.88 L450.22 140.03 L450.46 138.92 L448.61 138.25 L449.18 136.77 L449.41 136.06 L449.64 135.25 L450.58 133.65 L451.39 133.55 L453.46 133.78 L455.18 132.99 L456.13 133.35 L455.58 134.91 L456.96 136.37 L457.81 137.59 L456.73 138.5 L455.1 138.22 L454.53 139.56 L453.75 138.33 L452.74 137.13 L451.9 136.28" stroke="#909020"/>
<path d="M452.56 132.99 L453.8 134.43 L454.57 134.28 L456.5 135.62 L455.65 137.09 L454.23 136.89 L453.21 138.25 L453.6 139.33 L455.04 141.05 L457.55 141.29 L457.81 142.19 L456.9 141.93 L456.06 141.75 L454.53 141.53" stroke="#30b060"/>
<path d="M449.27 134.31 L450.61 134.17 L451.9 132.99 L452.36 135.23 L451.71 135.63 L452.21 137.58 L452.59 138.92 L452.55 140.07 L453.21 141.53 L454.22 143.73 L452.76 144.83 L453.92 146.08 L453.32 148.09 L453.87 149.42 L453.58 150.94 L453.21 152.04" stroke="#e0e040"/>
<path d="M452.56 142.85 L451.62 144.83 L450.46 144.85 L449.93 146.13 L449.63 147.56 L448.42 148.92 L447.9 149.58 L447.96 150.73 L446.75 150.02 L446.2 148.96 L444.67 149.42 L445.45 150.26 L447.11 152.37 L448.12 153.49 L448.03 154.21 L449.93 155.33 L448.53 154.53 L448.27 154.05 L447.3 153.36 L448.7 151.29 L448.73 150.17 L449.3 149.8 L450.87 148.69 L452.13 146.81 L452.56 145.47 L453.5 146.73 L454.92 146.77 L456.5 148.1" stroke="#d080f0"/>
<path d="M431.53 147.45 L431.04 148.94 L431.91 150.36 L431.84 151.82 L431.16 154.26 L431.27 154.67 L432.36 155.9 L431.74 156.36 L432.61 158.02 L432.85 159.27 L434.01 159.72 L434.82 159.93 L434.33 161.02 L433.5 161.24" stroke="#f02040"/>
<path d="M429.56 148.76 L430.12 147.39 L430.15 146.79 L430.88 145.47 L431.13 146.73 L432.19 147.45" stroke="#404040"/>
<path d="M419.71 153.36 L421.29 153.21 L422.04 152.42 L423.22 152.35 L424.97 152.66 L426.28 152.7 L427.24 153.16 L428.95 152.98 L430.43 153.49 L430.92 153.5 L432.85 153.36 L433.04 153.71 L434.98 154.93 L435.47 155.33" stroke="#50c0a0"/>
<path d="M424.31 155.99 L424.07 157.2 L423.86 157.7 L422.71 159.45 L422.34 160.58 L422.45 162.29 L421.02 163.21 L422.29 161.83 L423.63 161.2 L423.65 159.93" stroke="#b090e0"/>
<path d="M425.62 159.27 L425.68 161.69 L425.95 162.01 L426.93 163.87 L425.75 164.59 L424.95 166.16 L423.65 167.15 L422.38 168.2 L420.4 168.33 L419.39 168.7 L419.12 169.34 L417.01 168.35 L415.77 169.12 L414.31 169.24 L411.94 169.67 L410.69 170.07 L409.83 169.54 L407.88 169.78 L406.58 170.18 L405.08 171.94 L403.59 171.28 L402.63 171.75 L402.57 172.7 L401.51 173.44 L401.31 175.04 L402.75 176.29 L403.28 177.01" stroke="#a05030"/>
<path d="M428.91 165.84 L430.21 166.11 L431.35 167.64 L432.16 167.85 L433.39 168.89 L434.57 170.09 L435.53 171.24 L436.79 171.75 L438.08 171.3 L439.58 170.82 L440.36 169.65 L442.04 169.12 L441.08 169.71 L439.84 170.46 L438.1 170.7 L437.06 171.82 L436.25 172.64 L435.47 173.07 L435.13 174.4 L434.24 174.32 L432.11 175.72 L431.12 176.89 L430.22 177.67" stroke="#303060"/>
<path d="M404.6 175.04 L404.62 176.94 L405.3 178.15 L404.71 179.68 L405.26 180.95 L404.2 181.58 L402.64 182.47 L401.11 182.29 L400 182.92" stroke="#3020e0"/>
<path d="M407.23 185.55 L408.89 185.47 L410.37 184.88 L410.95 184.23 L412.69 184.72 L414.57 183.45 L415.88 183.83 L417.08 183.58 L415.7 185.23 L415.21 185.53 L415.1 185.82 L413.14 186.86 L411.67 187.26 L410.01 186.56 L409.21 186.74 L407.88 186.21 L409.46 185.64 L411.1 186.09 L411.75 185.29 L413.38 184.89 L415.4 184.99 L416.42 184.89" stroke="#3020e0"/>
<path d="M411.17 192.12 L411.72 190.41 L412.48 189.49 L413.78 190.19 L415.66 189.14 L416.44 190.13 L418.07 189.81 L419.71 190.15 L420.48 188.77 L421.93 188.25 L422.99 187.52 L424.96 187.28 L425.69 187.35 L427.59 186.86 L427.12 187.57 L425.62 188.83 L423.88 188.87 L422.92 189.9 L422.34 189.49" stroke="#c0a020"/>
<path d="M400 126.42 L401.05 126.69" stroke="#20a090"/>
<path d="M400 133.65 L400.79 133.65" stroke="#20d0f0"/>
<path d="M400 167.15 L401.31 166.5" stroke="#90c030"/>
<path d="M400 190.8 L400.46 191.01 L401.97 191.46" stroke="#20c040"/>
<path d="M444.02 113.94 L445.67 114.19 L446.01 113.47 L447.3 113.68 L446.9 114.51 L446.64 115.52 L446.09 115.33 L444.41 115.26 L444.68 115.24 L445.99 114.47" stroke="#40a040"/>
<path d="M444.67 111.31 L446.25 111.58" stroke="#40a0f0"/>
</g>
<circle cx="344.56" cy="54.67" r="0.92" fill="#4080f0"/>
<circle cx="353.5" cy="93.43" r="1.18" fill="#6b2a10"/>
<circle cx="358.36" cy="60.19" r="0.79" fill="#206040"/>
<circle cx="451.9" cy="102.89" r="1.31" fill="#101070"/>
<circle cx="355.73" cy="117.62" r="1.05" fill="#1a4a1a"/>
<circle cx="425.23" cy="135.88" r="1.84" fill="#102818"/>
<circle cx="429.56" cy="133.39" r="1.31" fill="#901050"/>
<circle cx="430.48" cy="134.96" r="0.53" fill="#80e080"/>
<circle cx="426.93" cy="152.7" r="1.31" fill="#20e020"/>
<circle cx="447.96" cy="153.1" r="0.79" fill="#101060"/>
<circle cx="438.1" cy="159.27" r="0.66" fill="#20d0f0"/>
<circle cx="417.08" cy="173.99" r="0.66" fill="#202020"/>
<circle cx="368.87" cy="168.47" r="0.53" fill="#20c0e0"/>
<line x1="445.1" y1="189.9" x2="479.2" y2="189.9" stroke="#000" stroke-width="2"/>
<line x1="589" y1="22.5" x2="675.5" y2="22.5" stroke="#383838" stroke-width="1"/>
<line x1="589" y1="193.5" x2="675.5" y2="193.5" stroke="#383838" stroke-width="1"/>
<line x1="589.5" y1="22.5" x2="589.5" y2="193.5" stroke="#383838" stroke-width="1"/>
<line x1="675" y1="22.5" x2="675" y2="193.5" stroke="#383838" stroke-width="1"/>
<line x1="586.6" y1="60" x2="589.5" y2="60" stroke="#383838" stroke-width="0.9"/>
<text x="584.2" y="64.3" font-size="12" text-anchor="end" fill="#1a1a1a">60</text>
<line x1="586.6" y1="102.1" x2="589.5" y2="102.1" stroke="#383838" stroke-width="0.9"/>
<text x="584.2" y="106.4" font-size="12" text-anchor="end" fill="#1a1a1a">40</text>
<line x1="586.6" y1="143.9" x2="589.5" y2="143.9" stroke="#383838" stroke-width="0.9"/>
<text x="584.2" y="148.2" font-size="12" text-anchor="end" fill="#1a1a1a">20</text>
<line x1="586.6" y1="185.8" x2="589.5" y2="185.8" stroke="#383838" stroke-width="0.9"/>
<text x="584.2" y="190.1" font-size="12" text-anchor="end" fill="#1a1a1a">0</text>
<line x1="605.3" y1="105.3" x2="605.3" y2="173.6" stroke="#151515" stroke-width="0.85"/>
<rect x="595.2" y="132.3" width="20.2" height="26.2" fill="#fe0000" stroke="#111" stroke-width="0.9"/>
<line x1="595.2" y1="148.5" x2="615.4" y2="148.5" stroke="#1a1a1a" stroke-width="0.8"/>
<line x1="632.3" y1="30.2" x2="632.3" y2="123.7" stroke="#151515" stroke-width="0.85"/>
<rect x="622.3" y="52.4" width="20" height="37.8" fill="#fe0000" stroke="#111" stroke-width="0.9"/>
<line x1="622.3" y1="72.4" x2="642.3" y2="72.4" stroke="#1a1a1a" stroke-width="0.8"/>
<line x1="658.8" y1="145.3" x2="658.8" y2="181.5" stroke="#151515" stroke-width="0.85"/>
<rect x="648.6" y="159.3" width="20.4" height="14.9" fill="#fe0000" stroke="#111" stroke-width="0.9"/>
<line x1="648.6" y1="169.6" x2="669" y2="169.6" stroke="#1a1a1a" stroke-width="0.8"/>
<line x1="605.3" y1="193.5" x2="605.3" y2="196.2" stroke="#383838" stroke-width="0.9"/>
<text x="610" y="203.5" font-size="12" text-anchor="end" fill="#1a1a1a" transform="rotate(-30 610 203.5)">RING1B-HT</text>
<line x1="632.3" y1="193.5" x2="632.3" y2="196.2" stroke="#383838" stroke-width="0.9"/>
<text x="637" y="203.5" font-size="12" text-anchor="end" fill="#1a1a1a" transform="rotate(-30 637 203.5)">HT-H2B</text>
<line x1="658.8" y1="193.5" x2="658.8" y2="196.2" stroke="#383838" stroke-width="0.9"/>
<text x="663.5" y="203.5" font-size="12" text-anchor="end" fill="#1a1a1a" transform="rotate(-30 663.5 203.5)">HT-3xNLS</text>
<text x="559.5" y="108" font-size="11.7" text-anchor="middle" fill="#1a1a1a" transform="rotate(-90 559.5 108)">Percentage bound</text>
<line x1="402" y1="279.5" x2="559.5" y2="279.5" stroke="#383838" stroke-width="1"/>
<line x1="402" y1="443.5" x2="559.5" y2="443.5" stroke="#383838" stroke-width="1"/>
<line x1="402.5" y1="279.5" x2="402.5" y2="443.5" stroke="#383838" stroke-width="1"/>
<line x1="559" y1="279.5" x2="559" y2="443.5" stroke="#383838" stroke-width="1"/>
<line x1="402.5" y1="443.5" x2="402.5" y2="446.1" stroke="#383838" stroke-width="1"/>
<text x="402.5" y="458" font-size="11.7" text-anchor="middle" fill="#1a1a1a">0</text>
<line x1="433.8" y1="443.5" x2="433.8" y2="446.1" stroke="#383838" stroke-width="1"/>
<text x="433.8" y="458" font-size="11.7" text-anchor="middle" fill="#1a1a1a">20</text>
<line x1="465.1" y1="443.5" x2="465.1" y2="446.1" stroke="#383838" stroke-width="1"/>
<text x="465.1" y="458" font-size="11.7" text-anchor="middle" fill="#1a1a1a">40</text>
<line x1="496.4" y1="443.5" x2="496.4" y2="446.1" stroke="#383838" stroke-width="1"/>
<text x="496.4" y="458" font-size="11.7" text-anchor="middle" fill="#1a1a1a">60</text>
<line x1="527.7" y1="443.5" x2="527.7" y2="446.1" stroke="#383838" stroke-width="1"/>
<text x="527.7" y="458" font-size="11.7" text-anchor="middle" fill="#1a1a1a">80</text>
<line x1="559" y1="443.5" x2="559" y2="446.1" stroke="#383838" stroke-width="1"/>
<text x="559" y="458" font-size="11.7" text-anchor="middle" fill="#1a1a1a">100</text>
<line x1="399.9" y1="443.5" x2="402.5" y2="443.5" stroke="#383838" stroke-width="1"/>
<text x="398.9" y="446.4" font-size="11.7" text-anchor="end" fill="#1a1a1a">0</text>
<line x1="399.9" y1="410.7" x2="402.5" y2="410.7" stroke="#383838" stroke-width="1"/>
<text x="398.9" y="413.6" font-size="11.7" text-anchor="end" fill="#1a1a1a">0.2</text>
<line x1="399.9" y1="377.9" x2="402.5" y2="377.9" stroke="#383838" stroke-width="1"/>
<text x="398.9" y="380.8" font-size="11.7" text-anchor="end" fill="#1a1a1a">0.4</text>
<line x1="399.9" y1="345.1" x2="402.5" y2="345.1" stroke="#383838" stroke-width="1"/>
<text x="398.9" y="348" font-size="11.7" text-anchor="end" fill="#1a1a1a">0.6</text>
<line x1="399.9" y1="312.3" x2="402.5" y2="312.3" stroke="#383838" stroke-width="1"/>
<text x="398.9" y="315.2" font-size="11.7" text-anchor="end" fill="#1a1a1a">0.8</text>
<line x1="399.9" y1="279.5" x2="402.5" y2="279.5" stroke="#383838" stroke-width="1"/>
<text x="398.9" y="282.4" font-size="11.7" text-anchor="end" fill="#1a1a1a">1.0</text>
<text x="487.2" y="472.7" font-size="11.7" text-anchor="middle" fill="#1a1a1a">Time (s)</text>
<text x="376.3" y="364" font-size="11.7" text-anchor="middle" fill="#1a1a1a" transform="rotate(-90 376.3 364)">1 - CDF</text>
<text x="480.75" y="269.7" font-size="14.5" text-anchor="middle" fill="#2a2a2a">2 Hz</text>
<path d="M402.5 279.5 L402.89 294.31 L403.28 306.42 L403.67 316.22 L404.06 324.06 L404.46 330.33 L404.85 335.11 L405.24 339.03 L405.63 341.88 L406.02 344.11 L406.41 345.82 L406.8 347.06 L407.19 348.05 L407.59 349.01 L407.98 350.09 L408.37 351 L408.76 352.48 L409.15 354.71 L409.54 356.57 L409.93 358.6 L410.32 360.49 L410.72 361.77 L411.11 363.22 L411.5 364.84 L411.89 365.73 L412.28 366.61 L412.67 367.56 L413.06 368.35 L413.45 369.01 L413.85 369.48 L414.24 370.03 L414.63 370.45 L415.02 370.47 L415.41 371.12 L415.8 371.76 L416.19 372.27 L416.58 372.47 L416.98 373.1 L417.37 373.24 L417.76 374.04 L418.15 374.76 L418.54 375.24 L418.93 375.91 L419.32 376.52 L419.71 376.88 L420.11 377.18 L420.5 377.64 L420.89 378.19 L421.28 378.36 L421.67 378.77 L422.06 379.32 L422.45 379.53 L422.85 380.23 L423.24 380.65 L423.63 380.96 L424.02 381.41 L424.41 381.97 L424.8 382.29 L425.19 382.81 L425.58 383.31 L425.98 383.87 L426.37 383.87 L426.76 384.3 L427.15 384.3 L427.54 384.49 L427.93 384.81 L428.32 384.89 L428.71 385.06 L429.11 385.26 L429.5 385.78 L429.89 385.94 L430.28 385.91 L430.67 385.98 L431.06 385.93 L431.45 385.77 L431.84 385.89 L432.24 385.65 L432.63 386.24 L433.02 386.5 L433.41 387.29 L433.8 387.27 L434.19 387.44 L434.58 387.24 L434.97 387.55 L435.37 388.23 L435.76 388.13 L436.15 388.66 L436.54 389.16 L436.93 389.39 L437.32 389.44 L437.71 389.76 L438.1 389.93 L438.5 390.58 L438.89 390.38 L439.28 390.62 L439.67 390.83 L440.06 390.93 L440.45 391.14 L440.84 391.35 L441.23 391.82 L441.62 392.09 L442.02 392.23 L442.41 392.24 L442.8 392.54 L443.19 392.79 L443.58 392.97 L443.97 393.11 L444.36 393.34 L444.75 393.67 L445.15 394.06 L445.54 394.06 L445.93 394.26 L446.32 394.52 L446.71 393.99 L447.1 394.1 L447.49 394.22 L447.88 394.5 L448.28 395.04 L448.67 395.06 L449.06 395.36 L449.45 395.62 L449.84 395.64 L450.23 395.66 L450.62 395.86 L451.01 396.1 L451.41 395.85 L451.8 395.96 L452.19 396.43 L452.58 396.46 L452.97 396.61 L453.36 396.79 L453.75 396.79 L454.14 396.9 L454.54 396.59 L454.93 396.71 L455.32 396.82 L455.71 396.71 L456.1 397.01 L456.49 396.93 L456.88 397.11 L457.27 397.01 L457.67 397.39 L458.06 397.48 L458.45 398.04 L458.84 398.32 L459.23 398.5 L459.62 398.59 L460.01 398.37 L460.4 398.22 L460.8 398.85 L461.19 399.34 L461.58 399.37 L461.97 399.62 L462.36 400.31 L462.75 400.56 L463.14 401.2 L463.53 401.77 L463.93 402.42 L464.32 402.83 L464.71 402.67 L465.1 402.98 L465.49 403.4 L465.88 403.21 L466.27 403.75 L466.67 404.19 L467.06 404.65 L467.45 404.93 L467.84 405.38 L468.23 405.4 L468.62 405.83 L469.01 406.05 L469.4 406.34 L469.8 406.87 L470.19 407.39 L470.58 407.68 L470.97 408.46 L471.36 408.67 L471.75 408.86 L472.14 409.02 L472.53 409.23 L472.93 409.34 L473.32 409.6 L473.71 409.63 L474.1 410.18 L474.49 410.12 L474.88 410.48 L475.27 410.5 L475.66 410.75 L476.06 410.98 L476.45 411.29 L476.84 411.09 L477.23 411.47 L477.62 411.85 L478.01 411.89 L478.4 411.92 L478.79 412 L479.19 412.32 L479.58 412.55 L479.97 412.41 L480.36 412.73 L480.75 412.66 L481.14 412.57 L481.53 412.63 L481.92 413 L482.31 412.64 L482.71 412.72 L483.1 412.79 L483.49 412.99 L483.88 413.31 L484.27 413.46 L484.66 413.51 L485.05 413.8 L485.44 413.86 L485.84 413.69 L486.23 413.71 L486.62 413.86 L487.01 413.75 L487.4 413.68 L487.79 413.64 L488.18 414.01 L488.57 414.59 L488.97 414.55 L489.36 414.7 L489.75 414.95 L490.14 415 L490.53 415.27 L490.92 415.58 L491.31 415.32 L491.7 415.88 L492.1 415.85 L492.49 415.81 L492.88 415.6 L493.27 415.77 L493.66 415.88 L494.05 416.33 L494.44 416.54 L494.83 417.23 L495.23 417.54 L495.62 417.72 L496.01 417.91 L496.4 418.18 L496.79 418.07 L497.18 418.61 L497.57 418.73 L497.97 418.97 L498.36 419.1 L498.75 419.23 L499.14 418.93 L499.53 419.34 L499.92 419.19 L500.31 419.04 L500.7 419.26 L501.1 419.58 L501.49 420.03 L501.88 420.36 L502.27 420.02 L502.66 420.68 L503.05 420.69 L503.44 420.98 L503.83 420.66 L504.23 420.73 L504.62 421.18 L505.01 421.42 L505.4 421.48 L505.79 421.57 L506.18 421.9 L506.57 422.06 L506.96 422.26 L507.36 422.23 L507.75 422.27 L508.14 422.32 L508.53 422.55 L508.92 422.47 L509.31 422.7 L509.7 422.99 L510.09 423.17 L510.49 423.32 L510.88 423.47 L511.27 423.98 L511.66 423.72 L512.05 423.64 L512.44 423.42 L512.83 423.61 L513.22 423.53 L513.62 423.6 L514.01 423.7 L514.4 423.4 L514.79 423.67 L515.18 423.66 L515.57 424.19 L515.96 424.16 L516.35 424.31 L516.75 424.65 L517.14 424.87 L517.53 425.44 L517.92 425.73 L518.31 425.72 L518.7 426.36 L519.09 426.11 L519.48 425.91 L519.88 426.13 L520.27 426.5 L520.66 426.84 L521.05 427.13 L521.44 427.28 L521.83 426.77 L522.22 427.04 L522.61 426.88 L523 426.62 L523.4 426.88 L523.79 426.98 L524.18 426.86 L524.57 427.06 L524.96 426.82 L525.35 426.39 L525.74 426.5 L526.13 426.79 L526.53 426.73 L526.92 426.75 L527.31 427.02 L527.7 427.13 L528.09 427.2 L528.48 427.16 L528.87 426.99 L529.26 427.21 L529.66 427.61 L530.05 428.05 L530.44 427.68 L530.83 427.86 L531.22 428.02 L531.61 427.53 L532 427.38 L532.39 426.99 L532.79 427.19 L533.18 427.49 L533.57 427.74 L533.96 427.71 L534.35 427.74 L534.74 427.78 L535.13 427.39 L535.52 427.25 L535.92 427.67 L536.31 427.73 L536.7 427.75 L537.09 428.08 L537.48 427.68 L537.87 427.65 L538.26 427.48 L538.65 427.8 L539.05 428.24 L539.44 428.22 L539.83 428.43 L540.22 428.71 L540.61 428.86 L541 428.94 L541.39 429.04 L541.78 429.21 L542.18 429.22 L542.57 428.68 L542.96 428.57 L543.35 428.87 L543.74 428.56 L544.13 428.86 L544.52 429.38 L544.91 429.84 L545.31 430.42 L545.7 430.23 L546.09 430.57 L546.48 430.97 L546.87 431.15 L547.26 431.24 L547.65 431.56 L548.04 431.72 L548.44 431.73 L548.83 431.6 L549.22 431.85 L549.61 431.74 L550 431.71 L550.39 431.62 L550.78 431.79 L551.17 432.1 L551.57 431.9 L551.96 431.8 L552.35 432.01 L552.74 432.23 L553.13 432.1 L553.52 431.68 L553.91 431.67 L554.31 431.17 L554.7 431.21 L555.09 431.25 L555.48 431.26 L555.87 431.14 L556.26 431.62 L556.65 431.69 L557.04 431.5 L557.43 431.98 L557.83 432.02 L558.22 431.94 L558.61 431.65 L559 431.41" stroke="#cfcfcf" stroke-width="1" fill="none" stroke-linejoin="round"/>
<path d="M402.5 279.5 L402.89 294.45 L403.28 306.67 L403.67 316.67 L404.06 324.87 L404.46 331.62 L404.85 337.17 L405.24 341.76 L405.63 345.57 L406.02 348.74 L406.41 351.39 L406.8 353.63 L407.19 355.52 L407.59 357.13 L407.98 358.52 L408.37 359.73 L408.76 360.78 L409.15 361.71 L409.54 362.55 L409.93 363.3 L410.32 363.98 L410.72 364.62 L411.11 365.2 L411.5 365.75 L411.89 366.27 L412.28 366.77 L412.67 367.25 L413.06 367.7 L413.45 368.15 L413.85 368.58 L414.24 369 L414.63 369.42 L415.02 369.83 L415.41 370.23 L415.8 370.62 L416.19 371.01 L416.58 371.4 L416.98 371.78 L417.37 372.16 L417.76 372.54 L418.15 372.91 L418.54 373.28 L418.93 373.65 L419.32 374.01 L419.71 374.37 L420.11 374.73 L420.5 375.09 L420.89 375.45 L421.28 375.8 L421.67 376.16 L422.06 376.51 L422.45 376.85 L422.85 377.2 L423.24 377.55 L423.63 377.89 L424.02 378.23 L424.41 378.57 L424.8 378.91 L425.19 379.24 L425.58 379.58 L425.98 379.91 L426.37 380.24 L426.76 380.57 L427.15 380.89 L427.54 381.22 L427.93 381.54 L428.32 381.86 L428.71 382.18 L429.11 382.5 L429.5 382.82 L429.89 383.14 L430.28 383.45 L430.67 383.76 L431.06 384.07 L431.45 384.38 L431.84 384.69 L432.24 384.99 L432.63 385.3 L433.02 385.6 L433.41 385.9 L433.8 386.2 L434.19 386.5 L434.58 386.79 L434.97 387.09 L435.37 387.38 L435.76 387.67 L436.15 387.96 L436.54 388.25 L436.93 388.54 L437.32 388.82 L437.71 389.11 L438.1 389.39 L438.5 389.67 L438.89 389.95 L439.28 390.23 L439.67 390.51 L440.06 390.78 L440.45 391.05 L440.84 391.33 L441.23 391.6 L441.62 391.87 L442.02 392.14 L442.41 392.4 L442.8 392.67 L443.19 392.93 L443.58 393.19 L443.97 393.46 L444.36 393.72 L444.75 393.97 L445.15 394.23 L445.54 394.49 L445.93 394.74 L446.32 395 L446.71 395.25 L447.1 395.5 L447.49 395.75 L447.88 396 L448.28 396.24 L448.67 396.49 L449.06 396.73 L449.45 396.98 L449.84 397.22 L450.23 397.46 L450.62 397.7 L451.01 397.93 L451.41 398.17 L451.8 398.41 L452.19 398.64 L452.58 398.87 L452.97 399.11 L453.36 399.34 L453.75 399.57 L454.14 399.79 L454.54 400.02 L454.93 400.25 L455.32 400.47 L455.71 400.7 L456.1 400.92 L456.49 401.14 L456.88 401.36 L457.27 401.58 L457.67 401.8 L458.06 402.01 L458.45 402.23 L458.84 402.44 L459.23 402.66 L459.62 402.87 L460.01 403.08 L460.4 403.29 L460.8 403.5 L461.19 403.71 L461.58 403.91 L461.97 404.12 L462.36 404.32 L462.75 404.53 L463.14 404.73 L463.53 404.93 L463.93 405.13 L464.32 405.33 L464.71 405.53 L465.1 405.72 L465.49 405.92 L465.88 406.12 L466.27 406.31 L466.67 406.5 L467.06 406.7 L467.45 406.89 L467.84 407.08 L468.23 407.27 L468.62 407.45 L469.01 407.64 L469.4 407.83 L469.8 408.01 L470.19 408.2 L470.58 408.38 L470.97 408.56 L471.36 408.75 L471.75 408.93 L472.14 409.11 L472.53 409.28 L472.93 409.46 L473.32 409.64 L473.71 409.81 L474.1 409.99 L474.49 410.16 L474.88 410.34 L475.27 410.51 L475.66 410.68 L476.06 410.85 L476.45 411.02 L476.84 411.19 L477.23 411.36 L477.62 411.52 L478.01 411.69 L478.4 411.86 L478.79 412.02 L479.19 412.18 L479.58 412.35 L479.97 412.51 L480.36 412.67 L480.75 412.83 L481.14 412.99 L481.53 413.15 L481.92 413.3 L482.31 413.46 L482.71 413.62 L483.1 413.77 L483.49 413.93 L483.88 414.08 L484.27 414.23 L484.66 414.39 L485.05 414.54 L485.44 414.69 L485.84 414.84 L486.23 414.99 L486.62 415.13 L487.01 415.28 L487.4 415.43 L487.79 415.57 L488.18 415.72 L488.57 415.86 L488.97 416.01 L489.36 416.15 L489.75 416.29 L490.14 416.43 L490.53 416.57 L490.92 416.71 L491.31 416.85 L491.7 416.99 L492.1 417.13 L492.49 417.27 L492.88 417.4 L493.27 417.54 L493.66 417.67 L494.05 417.81 L494.44 417.94 L494.83 418.07 L495.23 418.2 L495.62 418.34 L496.01 418.47 L496.4 418.6 L496.79 418.73 L497.18 418.86 L497.57 418.98 L497.97 419.11 L498.36 419.24 L498.75 419.36 L499.14 419.49 L499.53 419.61 L499.92 419.74 L500.31 419.86 L500.7 419.98 L501.1 420.11 L501.49 420.23 L501.88 420.35 L502.27 420.47 L502.66 420.59 L503.05 420.71 L503.44 420.83 L503.83 420.94 L504.23 421.06 L504.62 421.18 L505.01 421.29 L505.4 421.41 L505.79 421.52 L506.18 421.64 L506.57 421.75 L506.96 421.86 L507.36 421.98 L507.75 422.09 L508.14 422.2 L508.53 422.31 L508.92 422.42 L509.31 422.53 L509.7 422.64 L510.09 422.75 L510.49 422.85 L510.88 422.96 L511.27 423.07 L511.66 423.17 L512.05 423.28 L512.44 423.39 L512.83 423.49 L513.22 423.59 L513.62 423.7 L514.01 423.8 L514.4 423.9 L514.79 424 L515.18 424.11 L515.57 424.21 L515.96 424.31 L516.35 424.41 L516.75 424.51 L517.14 424.6 L517.53 424.7 L517.92 424.8 L518.31 424.9 L518.7 424.99 L519.09 425.09 L519.48 425.19 L519.88 425.28 L520.27 425.38 L520.66 425.47 L521.05 425.56 L521.44 425.66 L521.83 425.75 L522.22 425.84 L522.61 425.93 L523 426.02 L523.4 426.11 L523.79 426.21 L524.18 426.3 L524.57 426.38 L524.96 426.47 L525.35 426.56 L525.74 426.65 L526.13 426.74 L526.53 426.82 L526.92 426.91 L527.31 427 L527.7 427.08 L528.09 427.17 L528.48 427.25 L528.87 427.34 L529.26 427.42 L529.66 427.5 L530.05 427.59 L530.44 427.67 L530.83 427.75 L531.22 427.83 L531.61 427.92 L532 428 L532.39 428.08 L532.79 428.16 L533.18 428.24 L533.57 428.32 L533.96 428.4 L534.35 428.47 L534.74 428.55 L535.13 428.63 L535.52 428.71 L535.92 428.78 L536.31 428.86 L536.7 428.94 L537.09 429.01 L537.48 429.09 L537.87 429.16 L538.26 429.24 L538.65 429.31 L539.05 429.38 L539.44 429.46 L539.83 429.53 L540.22 429.6 L540.61 429.68 L541 429.75 L541.39 429.82 L541.78 429.89 L542.18 429.96 L542.57 430.03 L542.96 430.1 L543.35 430.17 L543.74 430.24 L544.13 430.31 L544.52 430.38 L544.91 430.45 L545.31 430.51 L545.7 430.58 L546.09 430.65 L546.48 430.71 L546.87 430.78 L547.26 430.85 L547.65 430.91 L548.04 430.98 L548.44 431.04 L548.83 431.11 L549.22 431.17 L549.61 431.24 L550 431.3 L550.39 431.36 L550.78 431.43 L551.17 431.49 L551.57 431.55 L551.96 431.61 L552.35 431.68 L552.74 431.74 L553.13 431.8 L553.52 431.86 L553.91 431.92 L554.31 431.98 L554.7 432.04 L555.09 432.1 L555.48 432.16 L555.87 432.22 L556.26 432.28 L556.65 432.33 L557.04 432.39 L557.43 432.45 L557.83 432.51 L558.22 432.56 L558.61 432.62 L559 432.68" stroke="#6e6e6e" stroke-width="1.05" fill="none" stroke-linejoin="round"/>
<path d="M402.5 279.5 L402.89 304.29 L403.28 323.5 L403.67 338.24 L404.06 349.32 L404.46 357.66 L404.85 364 L405.24 368.42 L405.63 371.54 L406.02 373.69 L406.41 375.32 L406.8 376.68 L407.19 377.91 L407.59 378.79 L407.98 379.74 L408.37 380.91 L408.76 382.27 L409.15 383.48 L409.54 385.22 L409.93 386.9 L410.32 387.99 L410.72 389.52 L411.11 390.9 L411.5 391.76 L411.89 393.04 L412.28 393.45 L412.67 394.33 L413.06 395 L413.45 395.66 L413.85 396.19 L414.24 396.63 L414.63 396.71 L415.02 396.99 L415.41 396.97 L415.8 397.09 L416.19 397.62 L416.58 397.89 L416.98 398.28 L417.37 398.63 L417.76 398.86 L418.15 399.06 L418.54 399.24 L418.93 399.95 L419.32 400.24 L419.71 400.59 L420.11 400.48 L420.5 400.82 L420.89 401.11 L421.28 401.4 L421.67 401.54 L422.06 402.07 L422.45 402.39 L422.85 402.71 L423.24 403 L423.63 403.34 L424.02 403.74 L424.41 404.01 L424.8 404.55 L425.19 404.5 L425.58 404.79 L425.98 405.44 L426.37 405.76 L426.76 405.83 L427.15 406.13 L427.54 406.43 L427.93 407.14 L428.32 407.08 L428.71 407.31 L429.11 407.94 L429.5 408.24 L429.89 408.15 L430.28 408.29 L430.67 408.8 L431.06 409.1 L431.45 409.23 L431.84 408.99 L432.24 409.14 L432.63 409.19 L433.02 409.46 L433.41 409.63 L433.8 410.01 L434.19 410.43 L434.58 410.84 L434.97 411.06 L435.37 410.91 L435.76 411.03 L436.15 410.9 L436.54 410.87 L436.93 410.97 L437.32 411.2 L437.71 410.89 L438.1 410.8 L438.5 410.71 L438.89 410.38 L439.28 410.27 L439.67 410.43 L440.06 410.55 L440.45 410.64 L440.84 410.39 L441.23 410.82 L441.62 411.38 L442.02 411.64 L442.41 411.8 L442.8 412.07 L443.19 412.03 L443.58 412.07 L443.97 412.24 L444.36 412.38 L444.75 412.17 L445.15 411.95 L445.54 411.82 L445.93 412.12 L446.32 412.1 L446.71 412.56 L447.1 413.13 L447.49 412.97 L447.88 413 L448.28 413.07 L448.67 413.01 L449.06 412.91 L449.45 413.1 L449.84 413.29 L450.23 413.41 L450.62 413.49 L451.01 413.7 L451.41 414.21 L451.8 413.94 L452.19 414.34 L452.58 414.69 L452.97 414.79 L453.36 415.02 L453.75 415.13 L454.14 414.87 L454.54 414.83 L454.93 415.18 L455.32 415.36 L455.71 415.61 L456.1 415.6 L456.49 416.02 L456.88 416.43 L457.27 416.96 L457.67 417.04 L458.06 417.14 L458.45 417.18 L458.84 417.2 L459.23 417.63 L459.62 417.88 L460.01 418.26 L460.4 418.16 L460.8 418.15 L461.19 418.61 L461.58 418.65 L461.97 418.78 L462.36 418.91 L462.75 418.93 L463.14 419.21 L463.53 419.42 L463.93 419.69 L464.32 419.95 L464.71 420.28 L465.1 420.16 L465.49 420.16 L465.88 420.34 L466.27 420.79 L466.67 420.44 L467.06 420.57 L467.45 420.66 L467.84 420.67 L468.23 420.47 L468.62 420.69 L469.01 421.31 L469.4 421.48 L469.8 421.6 L470.19 421.82 L470.58 421.64 L470.97 421.85 L471.36 421.9 L471.75 422.18 L472.14 422.13 L472.53 422.38 L472.93 422.32 L473.32 422.41 L473.71 422.49 L474.1 422.54 L474.49 422.98 L474.88 423.16 L475.27 423.2 L475.66 423.37 L476.06 423.22 L476.45 423.14 L476.84 423.4 L477.23 423.26 L477.62 423.42 L478.01 423.42 L478.4 423.29 L478.79 423.64 L479.19 423.91 L479.58 424.02 L479.97 424.16 L480.36 424.58 L480.75 424.52 L481.14 424.56 L481.53 424.59 L481.92 424.61 L482.31 424.55 L482.71 424.81 L483.1 424.82 L483.49 424.99 L483.88 425.16 L484.27 425.4 L484.66 425.21 L485.05 425.77 L485.44 425.95 L485.84 425.84 L486.23 425.95 L486.62 426.11 L487.01 425.94 L487.4 426.17 L487.79 426.26 L488.18 426.21 L488.57 426.35 L488.97 426.49 L489.36 426.5 L489.75 426.34 L490.14 426.57 L490.53 426.5 L490.92 426.55 L491.31 426.66 L491.7 426.96 L492.1 426.64 L492.49 426.58 L492.88 426.58 L493.27 426.7 L493.66 426.43 L494.05 426.64 L494.44 426.9 L494.83 427.11 L495.23 427.15 L495.62 427.13 L496.01 427.57 L496.4 427.53 L496.79 427.5 L497.18 427.32 L497.57 427.43 L497.97 427.18 L498.36 426.85 L498.75 427.04 L499.14 427.17 L499.53 427.05 L499.92 426.9 L500.31 427 L500.7 426.87 L501.1 427.29 L501.49 427.19 L501.88 427.2 L502.27 427.12 L502.66 427.13 L503.05 427.11 L503.44 427.31 L503.83 427.14 L504.23 427.68 L504.62 427.71 L505.01 427.93 L505.4 427.63 L505.79 427.96 L506.18 428.02 L506.57 428.11 L506.96 428.04 L507.36 428.13 L507.75 428.43 L508.14 428.54 L508.53 428.38 L508.92 428.32 L509.31 428.56 L509.7 428.89 L510.09 429.21 L510.49 429.29 L510.88 429.37 L511.27 429.49 L511.66 429.64 L512.05 429.64 L512.44 429.43 L512.83 429.3 L513.22 429.47 L513.62 429.39 L514.01 429.52 L514.4 429.35 L514.79 429.25 L515.18 429.18 L515.57 428.86 L515.96 428.81 L516.35 428.79 L516.75 428.68 L517.14 429.06 L517.53 429.29 L517.92 429.5 L518.31 429.47 L518.7 429.61 L519.09 430 L519.48 430.27 L519.88 430.42 L520.27 430.62 L520.66 430.81 L521.05 431.19 L521.44 431.23 L521.83 431.56 L522.22 431.69 L522.61 431.86 L523 431.97 L523.4 431.73 L523.79 431.88 L524.18 432.02 L524.57 432.57 L524.96 432.77 L525.35 432.74 L525.74 432.82 L526.13 432.69 L526.53 432.79 L526.92 432.67 L527.31 432.67 L527.7 432.51 L528.09 432.64 L528.48 432.53 L528.87 432.71 L529.26 432.94 L529.66 432.78 L530.05 433.13 L530.44 433.38 L530.83 433.1 L531.22 433.14 L531.61 433.14 L532 433.18 L532.39 433.27 L532.79 432.96 L533.18 433.06 L533.57 432.88 L533.96 433 L534.35 433.26 L534.74 433.42 L535.13 433.51 L535.52 433.1 L535.92 433.36 L536.31 433.4 L536.7 433.84 L537.09 433.84 L537.48 434 L537.87 434.05 L538.26 434.18 L538.65 434.42 L539.05 434.56 L539.44 434.73 L539.83 434.69 L540.22 434.89 L540.61 435.1 L541 435.54 L541.39 435.52 L541.78 435.7 L542.18 436.01 L542.57 435.87 L542.96 435.78 L543.35 435.85 L543.74 435.88 L544.13 436.15 L544.52 436.58 L544.91 436.47 L545.31 436.66 L545.7 436.4 L546.09 436.34 L546.48 436.16 L546.87 436.14 L547.26 435.93 L547.65 435.66 L548.04 435.55 L548.44 435.32 L548.83 435.11 L549.22 435.11 L549.61 435.41 L550 435.24 L550.39 435.33 L550.78 435.5 L551.17 435.82 L551.57 436.1 L551.96 435.76 L552.35 435.36 L552.74 435.07 L553.13 434.66 L553.52 435.07 L553.91 434.92 L554.31 435.2 L554.7 435.49 L555.09 435.34 L555.48 435.15 L555.87 435.34 L556.26 435.66 L556.65 435.95 L557.04 435.95 L557.43 435.75 L557.83 435.34 L558.22 435.28 L558.61 435.51 L559 435.75" stroke="#35b5ee" stroke-width="1.05" fill="none" stroke-linejoin="round"/>
<path d="M402.5 279.5 L402.89 304.67 L403.28 324.08 L403.67 339.08 L404.06 350.67 L404.46 359.65 L404.85 366.63 L405.24 372.05 L405.63 376.29 L406.02 379.62 L406.41 382.25 L406.8 384.33 L407.19 386 L407.59 387.35 L407.98 388.46 L408.37 389.37 L408.76 390.14 L409.15 390.79 L409.54 391.36 L409.93 391.86 L410.32 392.31 L410.72 392.72 L411.11 393.1 L411.5 393.45 L411.89 393.79 L412.28 394.11 L412.67 394.42 L413.06 394.71 L413.45 395 L413.85 395.29 L414.24 395.57 L414.63 395.84 L415.02 396.11 L415.41 396.38 L415.8 396.64 L416.19 396.91 L416.58 397.17 L416.98 397.43 L417.37 397.68 L417.76 397.94 L418.15 398.19 L418.54 398.44 L418.93 398.69 L419.32 398.94 L419.71 399.19 L420.11 399.43 L420.5 399.68 L420.89 399.92 L421.28 400.16 L421.67 400.4 L422.06 400.64 L422.45 400.88 L422.85 401.12 L423.24 401.35 L423.63 401.58 L424.02 401.82 L424.41 402.05 L424.8 402.28 L425.19 402.51 L425.58 402.73 L425.98 402.96 L426.37 403.18 L426.76 403.41 L427.15 403.63 L427.54 403.85 L427.93 404.07 L428.32 404.29 L428.71 404.51 L429.11 404.72 L429.5 404.94 L429.89 405.15 L430.28 405.36 L430.67 405.57 L431.06 405.78 L431.45 405.99 L431.84 406.2 L432.24 406.41 L432.63 406.61 L433.02 406.82 L433.41 407.02 L433.8 407.22 L434.19 407.42 L434.58 407.62 L434.97 407.82 L435.37 408.02 L435.76 408.22 L436.15 408.41 L436.54 408.61 L436.93 408.8 L437.32 408.99 L437.71 409.18 L438.1 409.37 L438.5 409.56 L438.89 409.75 L439.28 409.94 L439.67 410.12 L440.06 410.31 L440.45 410.49 L440.84 410.67 L441.23 410.86 L441.62 411.04 L442.02 411.22 L442.41 411.4 L442.8 411.57 L443.19 411.75 L443.58 411.93 L443.97 412.1 L444.36 412.28 L444.75 412.45 L445.15 412.62 L445.54 412.79 L445.93 412.96 L446.32 413.13 L446.71 413.3 L447.1 413.47 L447.49 413.63 L447.88 413.8 L448.28 413.96 L448.67 414.13 L449.06 414.29 L449.45 414.45 L449.84 414.61 L450.23 414.77 L450.62 414.93 L451.01 415.09 L451.41 415.25 L451.8 415.4 L452.19 415.56 L452.58 415.71 L452.97 415.87 L453.36 416.02 L453.75 416.17 L454.14 416.32 L454.54 416.47 L454.93 416.62 L455.32 416.77 L455.71 416.92 L456.1 417.07 L456.49 417.22 L456.88 417.36 L457.27 417.51 L457.67 417.65 L458.06 417.79 L458.45 417.94 L458.84 418.08 L459.23 418.22 L459.62 418.36 L460.01 418.5 L460.4 418.64 L460.8 418.77 L461.19 418.91 L461.58 419.05 L461.97 419.18 L462.36 419.32 L462.75 419.45 L463.14 419.58 L463.53 419.72 L463.93 419.85 L464.32 419.98 L464.71 420.11 L465.1 420.24 L465.49 420.37 L465.88 420.5 L466.27 420.62 L466.67 420.75 L467.06 420.88 L467.45 421 L467.84 421.13 L468.23 421.25 L468.62 421.37 L469.01 421.5 L469.4 421.62 L469.8 421.74 L470.19 421.86 L470.58 421.98 L470.97 422.1 L471.36 422.22 L471.75 422.34 L472.14 422.45 L472.53 422.57 L472.93 422.69 L473.32 422.8 L473.71 422.92 L474.1 423.03 L474.49 423.14 L474.88 423.26 L475.27 423.37 L475.66 423.48 L476.06 423.59 L476.45 423.7 L476.84 423.81 L477.23 423.92 L477.62 424.03 L478.01 424.14 L478.4 424.24 L478.79 424.35 L479.19 424.46 L479.58 424.56 L479.97 424.67 L480.36 424.77 L480.75 424.87 L481.14 424.98 L481.53 425.08 L481.92 425.18 L482.31 425.28 L482.71 425.38 L483.1 425.48 L483.49 425.58 L483.88 425.68 L484.27 425.78 L484.66 425.88 L485.05 425.98 L485.44 426.08 L485.84 426.17 L486.23 426.27 L486.62 426.36 L487.01 426.46 L487.4 426.55 L487.79 426.65 L488.18 426.74 L488.57 426.83 L488.97 426.93 L489.36 427.02 L489.75 427.11 L490.14 427.2 L490.53 427.29 L490.92 427.38 L491.31 427.47 L491.7 427.56 L492.1 427.65 L492.49 427.73 L492.88 427.82 L493.27 427.91 L493.66 427.99 L494.05 428.08 L494.44 428.17 L494.83 428.25 L495.23 428.34 L495.62 428.42 L496.01 428.5 L496.4 428.59 L496.79 428.67 L497.18 428.75 L497.57 428.83 L497.97 428.91 L498.36 428.99 L498.75 429.07 L499.14 429.15 L499.53 429.23 L499.92 429.31 L500.31 429.39 L500.7 429.47 L501.1 429.55 L501.49 429.62 L501.88 429.7 L502.27 429.78 L502.66 429.85 L503.05 429.93 L503.44 430 L503.83 430.08 L504.23 430.15 L504.62 430.23 L505.01 430.3 L505.4 430.37 L505.79 430.45 L506.18 430.52 L506.57 430.59 L506.96 430.66 L507.36 430.73 L507.75 430.8 L508.14 430.88 L508.53 430.95 L508.92 431.01 L509.31 431.08 L509.7 431.15 L510.09 431.22 L510.49 431.29 L510.88 431.36 L511.27 431.42 L511.66 431.49 L512.05 431.56 L512.44 431.62 L512.83 431.69 L513.22 431.75 L513.62 431.82 L514.01 431.88 L514.4 431.95 L514.79 432.01 L515.18 432.08 L515.57 432.14 L515.96 432.2 L516.35 432.27 L516.75 432.33 L517.14 432.39 L517.53 432.45 L517.92 432.51 L518.31 432.57 L518.7 432.63 L519.09 432.69 L519.48 432.75 L519.88 432.81 L520.27 432.87 L520.66 432.93 L521.05 432.99 L521.44 433.05 L521.83 433.11 L522.22 433.16 L522.61 433.22 L523 433.28 L523.4 433.33 L523.79 433.39 L524.18 433.45 L524.57 433.5 L524.96 433.56 L525.35 433.61 L525.74 433.67 L526.13 433.72 L526.53 433.78 L526.92 433.83 L527.31 433.88 L527.7 433.94 L528.09 433.99 L528.48 434.04 L528.87 434.1 L529.26 434.15 L529.66 434.2 L530.05 434.25 L530.44 434.3 L530.83 434.35 L531.22 434.4 L531.61 434.45 L532 434.5 L532.39 434.55 L532.79 434.6 L533.18 434.65 L533.57 434.7 L533.96 434.75 L534.35 434.8 L534.74 434.85 L535.13 434.9 L535.52 434.94 L535.92 434.99 L536.31 435.04 L536.7 435.08 L537.09 435.13 L537.48 435.18 L537.87 435.22 L538.26 435.27 L538.65 435.31 L539.05 435.36 L539.44 435.41 L539.83 435.45 L540.22 435.49 L540.61 435.54 L541 435.58 L541.39 435.63 L541.78 435.67 L542.18 435.71 L542.57 435.76 L542.96 435.8 L543.35 435.84 L543.74 435.89 L544.13 435.93 L544.52 435.97 L544.91 436.01 L545.31 436.05 L545.7 436.09 L546.09 436.13 L546.48 436.18 L546.87 436.22 L547.26 436.26 L547.65 436.3 L548.04 436.34 L548.44 436.38 L548.83 436.42 L549.22 436.45 L549.61 436.49 L550 436.53 L550.39 436.57 L550.78 436.61 L551.17 436.65 L551.57 436.69 L551.96 436.72 L552.35 436.76 L552.74 436.8 L553.13 436.84 L553.52 436.87 L553.91 436.91 L554.31 436.95 L554.7 436.98 L555.09 437.02 L555.48 437.05 L555.87 437.09 L556.26 437.13 L556.65 437.16 L557.04 437.2 L557.43 437.23 L557.83 437.27 L558.22 437.3 L558.61 437.33 L559 437.37" stroke="#3d3da6" stroke-width="1.05" fill="none" stroke-linejoin="round"/>
<line x1="568.3" y1="337.85" x2="577.2" y2="337.85" stroke="#cfcfcf" stroke-width="1"/>
<text x="578.5" y="341.35" font-size="11.7" text-anchor="start" fill="#1a1a1a">H2B</text>
<line x1="568.3" y1="352.9" x2="577.2" y2="352.9" stroke="#6e6e6e" stroke-width="1"/>
<text x="578.5" y="356.4" font-size="11.7" text-anchor="start" fill="#1a1a1a">H2B fit</text>
<line x1="568.3" y1="368.1" x2="577.2" y2="368.1" stroke="#35b5ee" stroke-width="1"/>
<text x="578.5" y="371.6" font-size="11.7" text-anchor="start" fill="#1a1a1a">RING1B</text>
<line x1="568.3" y1="383.3" x2="577.2" y2="383.3" stroke="#3d3da6" stroke-width="1"/>
<text x="578.5" y="386.8" font-size="11.7" text-anchor="start" fill="#1a1a1a">RING1B fit</text>
<line x1="405" y1="528.5" x2="564.5" y2="528.5" stroke="#383838" stroke-width="1"/>
<line x1="405" y1="692.5" x2="564.5" y2="692.5" stroke="#383838" stroke-width="1"/>
<line x1="405.5" y1="528.5" x2="405.5" y2="692.5" stroke="#383838" stroke-width="1"/>
<line x1="564" y1="528.5" x2="564" y2="692.5" stroke="#383838" stroke-width="1"/>
<line x1="405.5" y1="692.5" x2="405.5" y2="695.1" stroke="#383838" stroke-width="1"/>
<text x="405.5" y="706.8" font-size="11.7" text-anchor="middle" fill="#1a1a1a">0</text>
<line x1="445.12" y1="692.5" x2="445.12" y2="695.1" stroke="#383838" stroke-width="1"/>
<text x="445.12" y="706.8" font-size="11.7" text-anchor="middle" fill="#1a1a1a">200</text>
<line x1="484.75" y1="692.5" x2="484.75" y2="695.1" stroke="#383838" stroke-width="1"/>
<text x="484.75" y="706.8" font-size="11.7" text-anchor="middle" fill="#1a1a1a">400</text>
<line x1="524.38" y1="692.5" x2="524.38" y2="695.1" stroke="#383838" stroke-width="1"/>
<text x="524.38" y="706.8" font-size="11.7" text-anchor="middle" fill="#1a1a1a">600</text>
<line x1="564" y1="692.5" x2="564" y2="695.1" stroke="#383838" stroke-width="1"/>
<text x="564" y="706.8" font-size="11.7" text-anchor="middle" fill="#1a1a1a">800</text>
<line x1="402.9" y1="692.5" x2="405.5" y2="692.5" stroke="#383838" stroke-width="1"/>
<text x="400.8" y="695.6" font-size="11.7" text-anchor="end" fill="#1a1a1a">0</text>
<line x1="402.9" y1="659.7" x2="405.5" y2="659.7" stroke="#383838" stroke-width="1"/>
<text x="400.8" y="662.8" font-size="11.7" text-anchor="end" fill="#1a1a1a">0.2</text>
<line x1="402.9" y1="626.9" x2="405.5" y2="626.9" stroke="#383838" stroke-width="1"/>
<text x="400.8" y="630" font-size="11.7" text-anchor="end" fill="#1a1a1a">0.4</text>
<line x1="402.9" y1="594.1" x2="405.5" y2="594.1" stroke="#383838" stroke-width="1"/>
<text x="400.8" y="597.2" font-size="11.7" text-anchor="end" fill="#1a1a1a">0.6</text>
<line x1="402.9" y1="561.3" x2="405.5" y2="561.3" stroke="#383838" stroke-width="1"/>
<text x="400.8" y="564.4" font-size="11.7" text-anchor="end" fill="#1a1a1a">0.8</text>
<line x1="402.9" y1="528.5" x2="405.5" y2="528.5" stroke="#383838" stroke-width="1"/>
<text x="400.8" y="531.6" font-size="11.7" text-anchor="end" fill="#1a1a1a">1.0</text>
<text x="481" y="721.8" font-size="11.7" text-anchor="middle" fill="#1a1a1a">Time (s)</text>
<text x="378.5" y="610.5" font-size="11.7" text-anchor="middle" fill="#1a1a1a" transform="rotate(-90 378.5 610.5)">1 - CDF</text>
<text x="484.75" y="519" font-size="14.5" text-anchor="middle" fill="#2a2a2a">0.033 Hz</text>
<path d="M405.5 528.5 L405.5 555.72 L411.44 555.72 L411.44 579.18 L417.39 579.18 L417.39 594.1 L423.33 594.1 L423.33 611.98 L429.27 611.98 L429.27 625.92 L435.22 625.92 L435.22 632.15 L441.16 632.15 L441.16 641 L447.11 641 L447.11 648.06 L453.05 648.06 L453.05 659.21 L458.99 659.21 L458.99 665.93 L464.94 665.93 L464.94 670.52 L470.88 670.52 L470.88 673.8 L476.82 673.8 L476.82 676.59 L482.77 676.59 L482.77 677.74 L488.71 677.74 L488.71 678.23 L494.66 678.23 L494.66 678.23 L500.6 678.23 L500.6 681.91 L506.54 681.91 L506.54 684.14 L512.49 684.14 L512.49 686.92 L518.43 686.92 L518.43 687.74 L524.38 687.74 L524.38 688.56 L530.32 688.56 L530.32 689.22 L536.26 689.22 L536.26 689.88 L542.21 689.88 L542.21 690.37 L548.15 690.37 L548.15 690.7 L554.09 690.7" stroke="#cfcfcf" stroke-width="1" fill="none" stroke-linejoin="round" stroke-linejoin="miter"/>
<path d="M405.5 528.5 L406.09 533.52 L406.69 538.39 L407.28 543.22 L407.88 547.96 L408.47 552.54 L409.07 557.85 L409.66 563.2 L410.25 568.35 L410.85 573.29 L411.44 578.03 L412.04 580.42 L412.63 582.77 L413.23 585.06 L413.82 587.31 L414.42 589.51 L415.01 591.31 L415.6 593.08 L416.2 594.81 L416.79 596.52 L417.39 598.2 L417.98 599.75 L418.58 601.28 L419.17 602.78 L419.76 604.26 L420.36 605.72 L420.95 607.15 L421.55 608.55 L422.14 609.93 L422.74 611.29 L423.33 612.63 L423.93 613.99 L424.52 615.33 L425.11 616.65 L425.71 617.95 L426.3 619.22 L426.9 620.47 L427.49 621.7 L428.09 622.91 L428.68 624.09 L429.27 625.26 L429.87 626.37 L430.46 627.47 L431.06 628.54 L431.65 629.6 L432.25 630.64 L432.84 631.66 L433.44 632.67 L434.03 633.66 L434.62 634.63 L435.22 635.59 L435.81 636.53 L436.41 637.45 L437 638.36 L437.6 639.25 L438.19 640.12 L438.78 640.98 L439.38 641.83 L439.97 642.67 L440.57 643.49 L441.16 644.29 L441.76 645.08 L442.35 645.92 L442.95 646.76 L443.54 647.58 L444.13 648.38 L444.73 649.18 L445.32 649.95 L445.92 650.72 L446.51 651.47 L447.11 652.2 L447.7 652.93 L448.3 653.61 L448.89 654.27 L449.48 654.92 L450.08 655.56 L450.67 656.19 L451.27 656.81 L451.86 657.42 L452.46 658.02 L453.05 658.6 L453.64 659.18 L454.24 659.75 L454.83 660.31 L455.43 660.86 L456.02 661.4 L456.62 661.93 L457.21 662.45 L457.81 662.97 L458.4 663.47 L458.99 663.97 L459.59 664.45 L460.18 664.91 L460.78 665.36 L461.37 665.81 L461.97 666.25 L462.56 666.68 L463.15 667.11 L463.75 667.53 L464.34 667.94 L464.94 668.34 L465.53 668.74 L466.13 669.13 L466.72 669.51 L467.31 669.89 L467.91 670.26 L468.5 670.62 L469.1 670.98 L469.69 671.33 L470.29 671.68 L470.88 672.02 L471.48 672.35 L472.07 672.68 L472.66 673.01 L473.26 673.33 L473.85 673.64 L474.45 673.95 L475.04 674.25 L475.64 674.55 L476.23 674.84 L476.82 675.13 L477.42 675.39 L478.01 675.64 L478.61 675.89 L479.2 676.13 L479.8 676.37 L480.39 676.61 L480.99 676.84 L481.58 677.07 L482.17 677.3 L482.77 677.52 L483.36 677.74 L483.96 677.96 L484.55 678.17 L485.15 678.38 L485.74 678.59 L486.33 678.79 L486.93 678.99 L487.52 679.19 L488.12 679.38 L488.71 679.58 L489.31 679.8 L489.9 680.01 L490.5 680.22 L491.09 680.42 L491.68 680.63 L492.28 680.83 L492.87 681.02 L493.47 681.21 L494.06 681.4 L494.66 681.59 L495.25 681.77 L495.85 681.95 L496.44 682.13 L497.03 682.3 L497.63 682.47 L498.22 682.64 L498.82 682.81 L499.41 682.97 L500.01 683.13 L500.6 683.28 L501.19 683.44 L501.79 683.59 L502.38 683.74 L502.98 683.89 L503.57 684.03 L504.17 684.18 L504.76 684.31 L505.36 684.45 L505.95 684.59 L506.54 684.72 L507.14 684.85 L507.73 684.98 L508.33 685.11 L508.92 685.23 L509.52 685.35 L510.11 685.47 L510.7 685.59 L511.3 685.71 L511.89 685.82 L512.49 685.93 L513.08 686.04 L513.68 686.17 L514.27 686.32 L514.87 686.46 L515.46 686.6 L516.05 686.74 L516.65 686.88 L517.24 687.01 L517.84 687.14 L518.43 687.26 L519.03 687.39 L519.62 687.51 L520.21 687.61 L520.81 687.7 L521.4 687.79 L522 687.88 L522.59 687.97 L523.19 688.05 L523.78 688.13 L524.38 688.21 L524.97 688.29 L525.56 688.37 L526.16 688.45 L526.75 688.52 L527.35 688.59 L527.94 688.67 L528.54 688.74 L529.13 688.81 L529.72 688.88 L530.32 688.94 L530.91 689.01 L531.51 689.07 L532.1 689.14 L532.7 689.2 L533.29 689.26 L533.88 689.32 L534.48 689.38 L535.07 689.44 L535.67 689.49 L536.26 689.55 L536.86 689.6 L537.45 689.66 L538.05 689.71 L538.64 689.76 L539.23 689.81 L539.83 689.86 L540.42 689.91 L541.02 689.95 L541.61 690 L542.21 690.05 L542.8 690.09 L543.39 690.13 L543.99 690.18 L544.58 690.22 L545.18 690.26 L545.77 690.3 L546.37 690.34 L546.96 690.38 L547.56 690.42 L548.15 690.46 L548.74 690.5 L549.34 690.53 L549.93 690.57 L550.53 690.6 L551.12 690.64 L551.72 690.67" stroke="#6e6e6e" stroke-width="1" fill="none" stroke-linejoin="round"/>
<path d="M405.5 580.49 L405.5 580.49 L411.44 580.49 L411.44 609.68 L417.39 609.68 L417.39 630.67 L423.33 630.67 L423.33 644.78 L429.27 644.78 L429.27 653.96 L435.22 653.96 L435.22 662 L441.16 662 L441.16 669.05 L447.11 669.05 L447.11 674.13 L453.05 674.13 L453.05 676.1 L458.99 676.1 L458.99 680.86 L464.94 680.86 L464.94 682.17 L470.88 682.17 L470.88 683.48 L476.82 683.48 L476.82 683.97 L482.77 683.97 L482.77 683.97 L488.71 683.97 L488.71 686.6 L494.66 686.6 L494.66 688.4 L500.6 688.4 L500.6 688.4 L506.54 688.4 L506.54 688.4 L512.49 688.4 L512.49 690.53 L518.43 690.53 L518.43 690.53 L524.38 690.53 L524.38 690.86 L530.32 690.86 L530.32 691.19 L536.26 691.19 L536.26 691.52 L542.21 691.52 L542.21 691.84 L548.15 691.84 L548.15 692.01 L554.09 692.01" stroke="#35b5ee" stroke-width="1.05" fill="none" stroke-linejoin="round" stroke-linejoin="miter"/>
<path d="M405.5 528.5 L406.09 538.33 L406.69 547.56 L407.28 556.25 L407.88 565.91 L408.47 575.1 L409.07 583.63 L409.66 591.61 L410.25 599.04 L410.85 605.93 L411.44 612.3 L412.04 614.41 L412.63 616.47 L413.23 618.47 L413.82 620.41 L414.42 622.31 L415.01 623.99 L415.6 625.64 L416.2 627.25 L416.79 628.81 L417.39 630.34 L417.98 631.66 L418.58 632.94 L419.17 634.2 L419.76 635.43 L420.36 636.66 L420.95 637.86 L421.55 639.04 L422.14 640.19 L422.74 641.32 L423.33 642.43 L423.93 643.51 L424.52 644.59 L425.11 645.67 L425.71 646.71 L426.3 647.74 L426.9 648.74 L427.49 649.72 L428.09 650.68 L428.68 651.61 L429.27 652.53 L429.87 653.43 L430.46 654.38 L431.06 655.31 L431.65 656.21 L432.25 657.09 L432.84 657.95 L433.44 658.79 L434.03 659.61 L434.62 660.41 L435.22 661.19 L435.81 661.93 L436.41 662.66 L437 663.37 L437.6 664.06 L438.19 664.74 L438.78 665.4 L439.38 666.04 L439.97 666.67 L440.57 667.29 L441.16 667.89 L441.76 668.47 L442.35 669.05 L442.95 669.61 L443.54 670.17 L444.13 670.7 L444.73 671.23 L445.32 671.74 L445.92 672.24 L446.51 672.73 L447.11 673.21 L447.7 673.67 L448.3 674.08 L448.89 674.46 L449.48 674.85 L450.08 675.22 L450.67 675.58 L451.27 675.94 L451.86 676.29 L452.46 676.63 L453.05 676.97 L453.64 677.29 L454.24 677.63 L454.83 677.96 L455.43 678.29 L456.02 678.61 L456.62 678.93 L457.21 679.23 L457.81 679.53 L458.4 679.83 L458.99 680.11 L459.59 680.38 L460.18 680.62 L460.78 680.86 L461.37 681.09 L461.97 681.32 L462.56 681.54 L463.15 681.76 L463.75 681.97 L464.34 682.18 L464.94 682.39 L465.53 682.6 L466.13 682.83 L466.72 683.05 L467.31 683.26 L467.91 683.47 L468.5 683.68 L469.1 683.88 L469.69 684.07 L470.29 684.26 L470.88 684.45 L471.48 684.63 L472.07 684.81 L472.66 684.99 L473.26 685.16 L473.85 685.33 L474.45 685.49 L475.04 685.65 L475.64 685.8 L476.23 685.96 L476.82 686.1 L477.42 686.26 L478.01 686.41 L478.61 686.56 L479.2 686.7 L479.8 686.84 L480.39 686.98 L480.99 687.11 L481.58 687.24 L482.17 687.37 L482.77 687.49 L483.36 687.61 L483.96 687.73 L484.55 687.85 L485.15 687.96 L485.74 688.07 L486.33 688.18 L486.93 688.28 L487.52 688.38 L488.12 688.48 L488.71 688.58 L489.31 688.69 L489.9 688.79 L490.5 688.89 L491.09 688.99 L491.68 689.09 L492.28 689.18 L492.87 689.27 L493.47 689.36 L494.06 689.44 L494.66 689.53 L495.25 689.61 L495.85 689.69 L496.44 689.76 L497.03 689.84 L497.63 689.91 L498.22 689.98 L498.82 690.05 L499.41 690.12 L500.01 690.18 L500.6 690.25 L501.19 690.31 L501.79 690.36 L502.38 690.42 L502.98 690.48 L503.57 690.53 L504.17 690.58 L504.76 690.63 L505.36 690.68 L505.95 690.73 L506.54 690.78 L507.14 690.83 L507.73 690.87 L508.33 690.91 L508.92 690.96 L509.52 691 L510.11 691.04 L510.7 691.08 L511.3 691.11 L511.89 691.15 L512.49 691.19 L513.08 691.22 L513.68 691.24 L514.27 691.27 L514.87 691.29 L515.46 691.32 L516.05 691.34 L516.65 691.37 L517.24 691.39 L517.84 691.41 L518.43 691.43 L519.03 691.46 L519.62 691.48 L520.21 691.5 L520.81 691.52 L521.4 691.54 L522 691.56 L522.59 691.58 L523.19 691.6 L523.78 691.62 L524.38 691.63 L524.97 691.65 L525.56 691.67 L526.16 691.69 L526.75 691.7 L527.35 691.72 L527.94 691.74 L528.54 691.75 L529.13 691.77 L529.72 691.78 L530.32 691.8 L530.91 691.81 L531.51 691.83 L532.1 691.84 L532.7 691.85 L533.29 691.87 L533.88 691.88 L534.48 691.89 L535.07 691.9 L535.67 691.92 L536.26 691.93 L536.86 691.94 L537.45 691.95 L538.05 691.96 L538.64 691.97 L539.23 691.99 L539.83 692 L540.42 692.01 L541.02 692.02 L541.61 692.03 L542.21 692.04 L542.8 692.05 L543.39 692.06 L543.99 692.06 L544.58 692.07 L545.18 692.08 L545.77 692.09 L546.37 692.1 L546.96 692.11 L547.56 692.12 L548.15 692.12 L548.74 692.13 L549.34 692.14 L549.93 692.15 L550.53 692.15 L551.12 692.16 L551.72 692.17" stroke="#3d3da6" stroke-width="1" fill="none" stroke-linejoin="round"/>
<line x1="573.4" y1="587.1" x2="582.2" y2="587.1" stroke="#cfcfcf" stroke-width="1"/>
<text x="583.5" y="590.3" font-size="10.3" text-anchor="start" fill="#1a1a1a">H2B</text>
<line x1="573.4" y1="602.15" x2="582.2" y2="602.15" stroke="#6e6e6e" stroke-width="1"/>
<text x="583.5" y="605.35" font-size="10.3" text-anchor="start" fill="#1a1a1a">H2B fit</text>
<line x1="573.4" y1="617.3" x2="582.2" y2="617.3" stroke="#35b5ee" stroke-width="1"/>
<text x="583.5" y="620.5" font-size="10.3" text-anchor="start" fill="#1a1a1a">RING1B</text>
<line x1="573.4" y1="632.4" x2="582.2" y2="632.4" stroke="#3d3da6" stroke-width="1"/>
<text x="583.5" y="635.6" font-size="10.3" text-anchor="start" fill="#1a1a1a">RING1B fit</text>
<circle cx="61.1" cy="836.2" r="46.1" fill="url(#sph)"/>
<circle cx="44.2" cy="819.3" r="7" fill="url(#spot)"/>
<circle cx="57.4" cy="846.2" r="6.6" fill="url(#spot)"/>
<circle cx="72.7" cy="816" r="3.3" fill="url(#spotp)"/>
<circle cx="64.2" cy="829.8" r="3.3" fill="url(#spotp)"/>
<circle cx="87.4" cy="831.3" r="3.3" fill="url(#spot)"/>
<circle cx="42.5" cy="839.6" r="3.3" fill="url(#spot)"/>
<circle cx="74.4" cy="855.2" r="3.3" fill="url(#spot)"/>
<circle cx="88.9" cy="851.7" r="3.3" fill="url(#spot)"/>
<circle cx="33.9" cy="858.7" r="3.3" fill="url(#spot)"/>
<circle cx="49.5" cy="867.2" r="3.3" fill="url(#spot)"/>
<line x1="87.8" y1="798.4" x2="92.9" y2="793.2" stroke="#111" stroke-width="1.3"/>
<line x1="49.3" y1="814.4" x2="54" y2="810.2" stroke="#111" stroke-width="1.3"/>
<text x="94.2" y="794.8" font-size="11.7" text-anchor="start" fill="#111">Nucleus</text>
<text x="55.2" y="811.7" font-size="11.7" text-anchor="start" fill="#111">Polycomb body</text>
<text x="205.6" y="772.3" font-size="14.5" text-anchor="middle" fill="#222">RING1B-HT</text>
<text x="205.6" y="916.3" font-size="11.7" text-anchor="middle" fill="#1a1a1a">Maximum intensity</text>
<text x="205.6" y="929.9" font-size="11.7" text-anchor="middle" fill="#1a1a1a">projection</text>
<clipPath id="clipH"><rect x="144.2" y="778.9" width="122.7" height="122.2"/></clipPath>
<g clip-path="url(#clipH)">
<rect x="144.2" y="778.9" width="122.7" height="122.2" fill="#141414" stroke="none" stroke-width="0.7"/>
<ellipse cx="139.85" cy="824.45" rx="22.99" ry="47.08" fill="#3d3d3d" opacity="1" transform="rotate(0 139.85 824.45)" filter="url(#b3)"/>
<ellipse cx="265.76" cy="769.71" rx="30.65" ry="24.09" fill="#343434" opacity="1" transform="rotate(15 265.76 769.71)" filter="url(#b3)"/>
<ellipse cx="265.76" cy="885.76" rx="30.65" ry="32.84" fill="#383838" opacity="1" transform="rotate(0 265.76 885.76)" filter="url(#b3)"/>
<ellipse cx="206.64" cy="913.13" rx="26.28" ry="13.14" fill="#2c2c2c" opacity="1" transform="rotate(0 206.64 913.13)" filter="url(#b3)"/>
<ellipse cx="173.79" cy="774.09" rx="26.28" ry="10.95" fill="#202020" opacity="1" transform="rotate(0 173.79 774.09)" filter="url(#b3)"/>
<rect x="144.2" y="778.9" width="122.7" height="122.2" fill="#fff" opacity="0.13" filter="url(#nzH)"/>
<ellipse cx="217.15" cy="821.82" rx="49.49" ry="42.48" fill="#121212" opacity="1" transform="rotate(-15 217.15 821.82)" filter="url(#b2)"/>
<ellipse cx="193.94" cy="865.61" rx="39.85" ry="34.81" fill="#121212" opacity="1" transform="rotate(0 193.94 865.61)" filter="url(#b2)"/>
<ellipse cx="180.8" cy="838.68" rx="24.52" ry="27.15" fill="#121212" opacity="1" transform="rotate(0 180.8 838.68)" filter="url(#b2)"/>
<ellipse cx="217.15" cy="821.82" rx="45.54" ry="38.54" fill="#434343" opacity="1" transform="rotate(-15 217.15 821.82)" filter="url(#b2)"/>
<ellipse cx="193.94" cy="865.61" rx="35.91" ry="31.09" fill="#414141" opacity="1" transform="rotate(5 193.94 865.61)" filter="url(#b2)"/>
<ellipse cx="181.68" cy="839.34" rx="20.14" ry="23.65" fill="#424242" opacity="1" transform="rotate(0 181.68 839.34)" filter="url(#b2)"/>
<ellipse cx="206.64" cy="844.15" rx="32.84" ry="30.65" fill="#444444" opacity="1" transform="rotate(-30 206.64 844.15)" filter="url(#b3)"/>
<ellipse cx="219.77" cy="815.69" rx="28.47" ry="24.09" fill="#4b4b4b" opacity="0.8" transform="rotate(-15 219.77 815.69)" filter="url(#b3)"/>
<mask id="maskNuc" maskUnits="userSpaceOnUse" x="144.2" y="778.9" width="122.7" height="122.2"><g fill="#fff" filter="url(#b2)"><ellipse cx="217.15" cy="821.82" rx="45.54" ry="38.54" transform="rotate(-15 217.15 821.82)"/><ellipse cx="193.94" cy="865.61" rx="35.91" ry="31.09" transform="rotate(5 193.94 865.61)"/><ellipse cx="206.64" cy="844.15" rx="32.84" ry="30.65" transform="rotate(-30 206.64 844.15)"/><ellipse cx="181.68" cy="839.34" rx="20.14" ry="23.65" transform="rotate(0 181.68 839.34)"/></g></mask>
<g mask="url(#maskNuc)"><rect x="144.2" y="778.9" width="122.7" height="122.2" fill="#fff" opacity="0.22" filter="url(#nzH)"/></g>
<circle cx="222.4" cy="808.02" r="2.4" fill="#fff" opacity="1" filter="url(#b08)"/>
<circle cx="228.1" cy="806.49" r="1.5" fill="#fff" opacity="0.7" filter="url(#b08)"/>
<circle cx="195.25" cy="881.38" r="2.6" fill="#fff" opacity="0.85" filter="url(#b08)"/>
<circle cx="221.96" cy="873.71" r="2.2" fill="#fff" opacity="0.8" filter="url(#b08)"/>
<circle cx="188.02" cy="888.6" r="2" fill="#fff" opacity="0.6" filter="url(#b08)"/>
<circle cx="181.89" cy="882.47" r="1.8" fill="#fff" opacity="0.55" filter="url(#b08)"/>
<circle cx="205.54" cy="790.51" r="1.8" fill="#fff" opacity="0.5" filter="url(#b08)"/>
<circle cx="182.55" cy="801.46" r="1.6" fill="#fff" opacity="0.4" filter="url(#b08)"/>
<circle cx="202.26" cy="806.93" r="1.5" fill="#fff" opacity="0.4" filter="url(#b08)"/>
<circle cx="181.89" cy="832.77" r="2" fill="#fff" opacity="0.5" filter="url(#b08)"/>
<circle cx="211.02" cy="847.44" r="1.7" fill="#fff" opacity="0.55" filter="url(#b08)"/>
<circle cx="195.69" cy="852.26" r="1.2" fill="#fff" opacity="0.8" filter="url(#b08)"/>
<circle cx="194.59" cy="845.25" r="1.2" fill="#fff" opacity="0.6" filter="url(#b08)"/>
<circle cx="225.69" cy="825.54" r="1.7" fill="#fff" opacity="0.45" filter="url(#b08)"/>
<circle cx="235.1" cy="835.4" r="1.8" fill="#fff" opacity="0.45" filter="url(#b08)"/>
<circle cx="240.58" cy="812.4" r="1.6" fill="#fff" opacity="0.4" filter="url(#b08)"/>
<circle cx="248.24" cy="820.07" r="1.7" fill="#fff" opacity="0.4" filter="url(#b08)"/>
<circle cx="216.49" cy="836.49" r="1.7" fill="#fff" opacity="0.4" filter="url(#b08)"/>
<circle cx="200.07" cy="873.71" r="1.8" fill="#fff" opacity="0.55" filter="url(#b08)"/>
<circle cx="170.51" cy="867.14" r="1.7" fill="#fff" opacity="0.45" filter="url(#b08)"/>
<circle cx="184.74" cy="852.91" r="1.6" fill="#fff" opacity="0.4" filter="url(#b08)"/>
<circle cx="223.06" cy="857.29" r="1.7" fill="#fff" opacity="0.45" filter="url(#b08)"/>
<circle cx="232.91" cy="846.34" r="1.6" fill="#fff" opacity="0.4" filter="url(#b08)"/>
<circle cx="195.69" cy="824.45" r="1.6" fill="#fff" opacity="0.4" filter="url(#b08)"/>
<circle cx="209.92" cy="816.78" r="1.5" fill="#fff" opacity="0.4" filter="url(#b08)"/>
<circle cx="190.21" cy="813.5" r="1.5" fill="#fff" opacity="0.35" filter="url(#b08)"/>
<circle cx="229.63" cy="794.89" r="1.5" fill="#fff" opacity="0.4" filter="url(#b08)"/>
<circle cx="216.49" cy="799.27" r="1.4" fill="#fff" opacity="0.35" filter="url(#b08)"/>
<circle cx="177.08" cy="848.53" r="1.5" fill="#fff" opacity="0.35" filter="url(#b08)"/>
<circle cx="205.54" cy="863.86" r="1.5" fill="#fff" opacity="0.4" filter="url(#b08)"/>
<circle cx="215.4" cy="883.57" r="1.5" fill="#fff" opacity="0.35" filter="url(#b08)"/>
<circle cx="243.86" cy="841.96" r="1.5" fill="#fff" opacity="0.35" filter="url(#b08)"/>
<circle cx="202.26" cy="837.58" r="1.4" fill="#fff" opacity="0.35" filter="url(#b08)"/>
<circle cx="189.12" cy="868.24" r="1.5" fill="#fff" opacity="0.4" filter="url(#b08)"/>
<circle cx="173.79" cy="877" r="1.4" fill="#fff" opacity="0.35" filter="url(#b08)"/>
<circle cx="226.34" cy="866.05" r="1.4" fill="#fff" opacity="0.35" filter="url(#b08)"/>
<circle cx="239.48" cy="826.64" r="1.4" fill="#fff" opacity="0.35" filter="url(#b08)"/>
<circle cx="208.83" cy="829.92" r="1.4" fill="#fff" opacity="0.3" filter="url(#b08)"/>
<circle cx="219.77" cy="844.15" r="1.4" fill="#fff" opacity="0.3" filter="url(#b08)"/>
<circle cx="230.72" cy="815.69" r="1.4" fill="#fff" opacity="0.3" filter="url(#b08)"/>
<circle cx="195.69" cy="800.36" r="1.4" fill="#fff" opacity="0.3" filter="url(#b08)"/>
<circle cx="186.93" cy="824.45" r="1.4" fill="#fff" opacity="0.3" filter="url(#b08)"/>
<circle cx="180.36" cy="859.48" r="1.4" fill="#fff" opacity="0.3" filter="url(#b08)"/>
<circle cx="206.64" cy="877" r="1.4" fill="#fff" opacity="0.3" filter="url(#b08)"/>
<circle cx="200.07" cy="820.07" r="1.3" fill="#fff" opacity="0.3" filter="url(#b08)"/>
<circle cx="235.1" cy="802.55" r="1.3" fill="#fff" opacity="0.3" filter="url(#b08)"/>
<circle cx="251.52" cy="833.21" r="1.3" fill="#fff" opacity="0.3" filter="url(#b08)"/>
<circle cx="213.21" cy="809.12" r="1.3" fill="#fff" opacity="0.3" filter="url(#b08)"/>
<circle cx="203.35" cy="852.91" r="1.3" fill="#fff" opacity="0.3" filter="url(#b08)"/>
<circle cx="151.9" cy="815.69" r="1.7" fill="#fff" opacity="0.25" filter="url(#b08)"/>
<circle cx="156.28" cy="829.92" r="1.7" fill="#fff" opacity="0.3" filter="url(#b08)"/>
<circle cx="149.71" cy="858.39" r="2" fill="#fff" opacity="0.35" filter="url(#b08)"/>
<circle cx="148.61" cy="841.96" r="1.6" fill="#fff" opacity="0.25" filter="url(#b08)"/>
<circle cx="252.62" cy="782.84" r="1.6" fill="#fff" opacity="0.22" filter="url(#b08)"/>
<circle cx="261.38" cy="788.32" r="1.5" fill="#fff" opacity="0.22" filter="url(#b08)"/>
<circle cx="255.9" cy="875.9" r="1.6" fill="#fff" opacity="0.25" filter="url(#b08)"/>
<circle cx="248.24" cy="890.14" r="1.6" fill="#fff" opacity="0.2" filter="url(#b08)"/>
<circle cx="261.38" cy="859.48" r="1.5" fill="#fff" opacity="0.2" filter="url(#b08)"/>
<circle cx="154.09" cy="804.74" r="1.5" fill="#fff" opacity="0.2" filter="url(#b08)"/>
<circle cx="150.8" cy="872.62" r="1.5" fill="#fff" opacity="0.2" filter="url(#b08)"/>
<circle cx="146.42" cy="793.79" r="1.5" fill="#fff" opacity="0.15" filter="url(#b08)"/>
</g>
<line x1="223.7" y1="889.5" x2="264.3" y2="889.5" stroke="#fff" stroke-width="2"/>
<polygon points="196.3,853.6 183.7,860.8 189.2,865.8" fill="#f3e48c"/>
<line x1="338" y1="759.5" x2="522.5" y2="759.5" stroke="#383838" stroke-width="1"/>
<line x1="338" y1="921.5" x2="522.5" y2="921.5" stroke="#383838" stroke-width="1"/>
<line x1="338.5" y1="759.5" x2="338.5" y2="921.5" stroke="#383838" stroke-width="1"/>
<line x1="522" y1="759.5" x2="522" y2="921.5" stroke="#383838" stroke-width="1"/>
<line x1="347.24" y1="921.5" x2="347.24" y2="924.1" stroke="#383838" stroke-width="1"/>
<text x="346.04" y="934.4" font-size="11.7" text-anchor="middle" fill="#1a1a1a">0</text>
<line x1="390.93" y1="921.5" x2="390.93" y2="924.1" stroke="#383838" stroke-width="1"/>
<text x="390.93" y="934.4" font-size="11.7" text-anchor="middle" fill="#1a1a1a">50</text>
<line x1="434.62" y1="921.5" x2="434.62" y2="924.1" stroke="#383838" stroke-width="1"/>
<text x="434.62" y="934.4" font-size="11.7" text-anchor="middle" fill="#1a1a1a">100</text>
<line x1="478.31" y1="921.5" x2="478.31" y2="924.1" stroke="#383838" stroke-width="1"/>
<text x="478.31" y="934.4" font-size="11.7" text-anchor="middle" fill="#1a1a1a">150</text>
<line x1="522" y1="921.5" x2="522" y2="924.1" stroke="#383838" stroke-width="1"/>
<text x="522" y="934.4" font-size="11.7" text-anchor="middle" fill="#1a1a1a">200</text>
<line x1="335.9" y1="921.5" x2="338.5" y2="921.5" stroke="#383838" stroke-width="1"/>
<text x="332.4" y="924.6" font-size="11.7" text-anchor="end" fill="#1a1a1a">0</text>
<line x1="335.9" y1="894.5" x2="338.5" y2="894.5" stroke="#383838" stroke-width="1"/>
<text x="332.4" y="897.6" font-size="11.7" text-anchor="end" fill="#1a1a1a">0.2</text>
<line x1="335.9" y1="867.5" x2="338.5" y2="867.5" stroke="#383838" stroke-width="1"/>
<text x="332.4" y="870.6" font-size="11.7" text-anchor="end" fill="#1a1a1a">0.4</text>
<line x1="335.9" y1="840.5" x2="338.5" y2="840.5" stroke="#383838" stroke-width="1"/>
<text x="332.4" y="843.6" font-size="11.7" text-anchor="end" fill="#1a1a1a">0.6</text>
<line x1="335.9" y1="813.5" x2="338.5" y2="813.5" stroke="#383838" stroke-width="1"/>
<text x="332.4" y="816.6" font-size="11.7" text-anchor="end" fill="#1a1a1a">0.8</text>
<line x1="335.9" y1="786.5" x2="338.5" y2="786.5" stroke="#383838" stroke-width="1"/>
<text x="332.4" y="789.6" font-size="11.7" text-anchor="end" fill="#1a1a1a">1</text>
<line x1="335.9" y1="759.5" x2="338.5" y2="759.5" stroke="#383838" stroke-width="1"/>
<text x="332.4" y="762.6" font-size="11.7" text-anchor="end" fill="#1a1a1a">1.2</text>
<text x="430.3" y="955.4" font-size="11.7" text-anchor="middle" fill="#1a1a1a" word-spacing="2">Time (s)</text>
<text x="308.2" y="840.5" font-size="12" text-anchor="middle" fill="#1a1a1a" transform="rotate(-90 308.2 840.5)">Recovered fraction</text>
<line x1="338.5" y1="921.5" x2="338.5" y2="924.1" stroke="#383838" stroke-width="1"/>
<text x="341" y="934.4" font-size="11.7" text-anchor="end" fill="#1a1a1a">-10</text>
<clipPath id="clipI"><rect x="338.5" y="759.5" width="183.8" height="162"/></clipPath>
<g clip-path="url(#clipI)">
<path d="M347.24 865.8 L347.72 859.04 L348.2 855.99 L348.68 853.63 L349.16 852.79 L349.64 850.53 L350.12 848.31 L350.6 847.67 L351.08 846.66 L351.57 846.12 L352.05 844.66 L352.53 843.74 L353.01 843.24 L353.49 842.34 L353.97 842.31 L354.45 842.35 L354.93 841.7 L355.41 841 L355.89 839.35 L356.37 839.18 L356.85 838.23 L357.33 838.52 L357.81 837.46 L358.29 837.43 L358.77 837.59 L359.25 837.97 L359.74 837.12 L360.22 837.32 L360.7 836.45 L361.18 835.68 L361.66 835.01 L362.14 834.31 L362.62 835.1 L363.1 835.32 L363.58 835.5 L364.06 834.94 L364.54 835.18 L365.02 834.73 L365.5 834.07 L365.98 834.34 L366.46 834.26 L366.94 834.4 L367.42 833.21 L367.91 833.83 L368.39 833.64 L368.87 834.66 L369.35 834.9 L369.83 834.83 L370.31 834.59 L370.79 833.82 L371.27 833.56 L371.75 834.22 L372.23 833.31 L372.71 833.79 L373.19 834.13 L373.67 833.47 L374.15 833.92 L374.63 833.48 L375.11 833.18 L375.59 833.11 L376.08 832.3 L376.56 832.31 L377.04 833.11 L377.52 834.44 L378 834.4 L378.48 834.29 L378.96 834.08 L379.44 833.82 L379.92 833.31 L380.4 832.42 L380.88 833.02 L381.36 833.2 L381.84 833.51 L382.32 833.1 L382.8 833.04 L383.28 831.64 L383.76 831.94 L384.25 831.83 L384.73 831.78 L385.21 831.42 L385.69 831.01 L386.17 830.35 L386.65 830.82 L387.13 831.26 L387.61 831.75 L388.09 831.84 L388.57 831.15 L389.05 831.9 L389.53 832.3 L390.01 831.61 L390.49 830.97 L390.97 830.84 L391.45 830.34 L391.93 831.2 L392.42 831.03 L392.9 830.75 L393.38 830.16 L393.86 830.89 L394.34 829.85 L394.82 829.56 L395.3 829.81 L395.78 830.55 L396.26 830.35 L396.74 830.69 L397.22 830.74 L397.7 830.54 L398.18 830.69 L398.66 830.35 L399.14 830.53 L399.62 830.35 L400.1 829.38 L400.59 829.99 L401.07 830.44 L401.55 830.65 L402.03 830.87 L402.51 829.71 L402.99 830.59 L403.47 830.7 L403.95 830.58 L404.43 830.85 L404.91 830 L405.39 830.43 L405.87 830.19 L406.35 830.76 L406.83 831.27 L407.31 831.21 L407.79 831.08 L408.27 831.03 L408.76 830.92 L409.24 830.95 L409.72 831.06 L410.2 831.2 L410.68 831.48 L411.16 831.86 L411.64 830.91 L412.12 831.05 L412.6 831.6 L413.08 831.71 L413.56 831.47 L414.04 830.81 L414.52 831.15 L415 830.34 L415.48 830.31 L415.96 830.29 L416.44 830.34 L416.93 830.25 L417.41 829.37 L417.89 829.22 L418.37 828.59 L418.85 827.84 L419.33 828.58 L419.81 828.8 L420.29 829.34 L420.77 829.39 L421.25 829.63 L421.73 829.42 L422.21 829.66 L422.69 829.67 L423.17 829.91 L423.65 829.16 L424.13 829.48 L424.61 829.52 L425.1 830.08 L425.58 830.42 L426.06 829.99 L426.54 830.22 L427.02 829.82 L427.5 829.83 L427.98 829.18 L428.46 828.72 L428.94 828.63 L429.42 828.33 L429.9 829.24 L430.38 829 L430.86 829.65 L431.34 829.6 L431.82 829.7 L432.3 829.57 L432.79 829.69 L433.27 829.44 L433.75 830.5 L434.23 830.06 L434.71 829.67 L435.19 829.87 L435.67 830.04 L436.15 830.75 L436.63 830.88 L437.11 831.84 L437.59 831.56 L438.07 830.7 L438.55 830.65 L439.03 830.81 L439.51 830.08 L439.99 830.18 L440.47 829.67 L440.96 829.68 L441.44 830.61 L441.92 829.71 L442.4 830.07 L442.88 829.65 L443.36 828.95 L443.84 828.94 L444.32 829.11 L444.8 829.8 L445.28 829.95 L445.76 830.62 L446.24 830.68 L446.72 830.78 L447.2 830.83 L447.68 830.6 L448.16 831.07 L448.64 830.7 L449.13 830.62 L449.61 830 L450.09 830.48 L450.57 829.58 L451.05 829.72 L451.53 830.64 L452.01 831.02 L452.49 830.76 L452.97 830.81 L453.45 830.03 L453.93 830.87 L454.41 831.23 L454.89 830.35 L455.37 829.54 L455.85 830.58 L456.33 830.37 L456.81 829.58 L457.3 830.13 L457.78 830.43 L458.26 831.01 L458.74 831.22 L459.22 831.73 L459.7 831.59 L460.18 831.92 L460.66 831.33 L461.14 830.35 L461.62 830.73 L462.1 829.94 L462.58 829.86 L463.06 831.02 L463.54 830.73 L464.02 830.76 L464.5 830.88 L464.98 829.74 L465.47 829.91 L465.95 829.94 L466.43 830.32 L466.91 830.69 L467.39 831.08 L467.87 830.43 L468.35 830.07 L468.83 830.6 L469.31 829.39 L469.79 828.94 L470.27 829.85 L470.75 829.6 L471.23 829.93 L471.71 829.29 L472.19 829.85 L472.67 830.38 L473.15 830.03 L473.64 829.68 L474.12 830.22 L474.6 829.69 L475.08 829.25 L475.56 829.47 L476.04 828.97 L476.52 829.03 L477 828.99 L477.48 828.91 L477.96 828.86 L478.44 829.6 L478.92 829.76 L479.4 829.68 L479.88 830.15 L480.36 829.61 L480.84 829.94 L481.32 829.55 L481.81 829.35 L482.29 828.4 L482.77 827.91 L483.25 828.23 L483.73 828.48 L484.21 828.85 L484.69 828.21 L485.17 828.45 L485.65 828.01 L486.13 828.15 L486.61 828.76 L487.09 829.02 L487.57 828.79 L488.05 829.27 L488.53 829.38 L489.01 828.9 L489.49 829.7 L489.98 829.29 L490.46 829.7 L490.94 829.99 L491.42 829.4 L491.9 830.16 L492.38 830.28 L492.86 830.23 L493.34 829.99 L493.82 829.92 L494.3 829.8 L494.78 829.57 L495.26 829.05 L495.74 830.01 L496.22 829.44 L496.7 830.13 L497.18 829.4 L497.66 828.8 L498.15 827.95 L498.63 827.92 L499.11 828.19 L499.59 828.97 L500.07 829.04 L500.55 828.93 L501.03 828.76 L501.51 829.55 L501.99 830.09 L502.47 830.26 L502.95 829.49 L503.43 830.17 L503.91 830 L504.39 829.43 L504.87 829.43 L505.35 828.85 L505.83 828.5 L506.32 828.8 L506.8 828.36 L507.28 828.07 L507.76 828.76 L508.24 828.66 L508.72 828.43 L509.2 828.76 L509.68 828.27 L510.16 828.43 L510.64 828.78 L511.12 829.01 L511.6 829.3 L512.08 828.66 L512.56 828.04 L513.04 828.38 L513.52 828.34 L514 828.26 L514.49 828.81 L514.97 829.05 L515.45 828.17 L515.93 828.02 L516.41 828.61 L516.89 828.82 L517.37 828.4 L517.85 828.34 L518.33 828.04 L518.81 828.04 L519.29 828.81 L519.77 828.98 L520.25 828.14 L520.73 827.16 L521.21 826.77 L521.69 827.66 L521.69 838.88 L521.21 838.15 L520.73 837.67 L520.25 838.59 L519.77 838.65 L519.29 838.47 L518.81 837.83 L518.33 837.99 L517.85 838 L517.37 838.13 L516.89 837.63 L516.41 837.69 L515.93 837.86 L515.45 838.37 L514.97 838.72 L514.49 838.19 L514 838.31 L513.52 838.59 L513.04 838.22 L512.56 838.02 L512.08 838.21 L511.6 837.86 L511.12 838.72 L510.64 838.18 L510.16 838.2 L509.68 837.94 L509.2 838.75 L508.72 838.92 L508.24 838.98 L507.76 838.89 L507.28 838.56 L506.8 838.87 L506.32 838.96 L505.83 838.64 L505.35 838.65 L504.87 839.2 L504.39 839.28 L503.91 839.73 L503.43 839.64 L502.95 839.53 L502.47 840.03 L501.99 839.82 L501.51 839.58 L501.03 839.03 L500.55 839.08 L500.07 839.27 L499.59 838.91 L499.11 837.69 L498.63 837.34 L498.15 837.67 L497.66 837.82 L497.18 838.03 L496.7 838.56 L496.22 838.49 L495.74 839.43 L495.26 838.92 L494.78 839.09 L494.3 839.48 L493.82 838.39 L493.34 838.84 L492.86 839.12 L492.38 839.8 L491.9 839.56 L491.42 838.4 L490.94 839.09 L490.46 839.08 L489.98 838.61 L489.49 839.59 L489.01 838.87 L488.53 838.67 L488.05 838.55 L487.57 838.49 L487.09 838.94 L486.61 838.36 L486.13 838.16 L485.65 838.07 L485.17 838.12 L484.69 838.29 L484.21 839.01 L483.73 838.03 L483.25 837.87 L482.77 837.75 L482.29 837.65 L481.81 838.57 L481.32 838.86 L480.84 839.61 L480.36 839.52 L479.88 839.45 L479.4 838.92 L478.92 839.53 L478.44 838.98 L477.96 838.87 L477.48 838.73 L477 838.76 L476.52 838.66 L476.04 838.56 L475.56 838.29 L475.08 838.54 L474.6 839.06 L474.12 839.98 L473.64 839.5 L473.15 839.02 L472.67 839.51 L472.19 839.18 L471.71 839.23 L471.23 839.75 L470.75 839.33 L470.27 838.8 L469.79 838.52 L469.31 838.79 L468.83 839.68 L468.35 839.17 L467.87 839.08 L467.39 840.19 L466.91 839.92 L466.43 839.3 L465.95 838.85 L465.47 839.46 L464.98 839.08 L464.5 839.27 L464.02 838.5 L463.54 838.83 L463.06 839.41 L462.58 838.29 L462.1 839.12 L461.62 839.77 L461.14 838.91 L460.66 840.41 L460.18 840.76 L459.7 840.66 L459.22 840.62 L458.74 839.93 L458.26 839.79 L457.78 838.96 L457.3 838.61 L456.81 838.91 L456.33 839.39 L455.85 839.76 L455.37 839.55 L454.89 839.9 L454.41 841.05 L453.93 840.24 L453.45 839.69 L452.97 840.03 L452.49 839.43 L452.01 839.45 L451.53 839.06 L451.05 838.37 L450.57 838.42 L450.09 839.25 L449.61 839.29 L449.13 839.48 L448.64 839.65 L448.16 839.65 L447.68 840.35 L447.2 840.26 L446.72 840.17 L446.24 839.78 L445.76 839.61 L445.28 839.76 L444.8 839.02 L444.32 838.2 L443.84 838.33 L443.36 838.13 L442.88 838.26 L442.4 837.85 L441.92 837.65 L441.44 838.92 L440.96 838.31 L440.47 838.57 L439.99 838.84 L439.51 839.44 L439.03 840.45 L438.55 839.82 L438.07 839.63 L437.59 840.47 L437.11 841.13 L436.63 839.78 L436.15 839.46 L435.67 839.36 L435.19 839.24 L434.71 839.7 L434.23 839.31 L433.75 839.07 L433.27 838.39 L432.79 838.47 L432.3 838.26 L431.82 838.17 L431.34 837.74 L430.86 838.38 L430.38 837.8 L429.9 838.04 L429.42 838 L428.94 837.76 L428.46 838.08 L427.98 837.92 L427.5 838.7 L427.02 838.93 L426.54 839.45 L426.06 838.57 L425.58 838.65 L425.1 837.86 L424.61 838.1 L424.13 838.41 L423.65 837.96 L423.17 838.06 L422.69 838.06 L422.21 837.83 L421.73 838.21 L421.25 838.7 L420.77 838.13 L420.29 838.24 L419.81 837.79 L419.33 837.89 L418.85 837.49 L418.37 838.22 L417.89 838.83 L417.41 838.18 L416.93 838.81 L416.44 838.77 L415.96 839.08 L415.48 839.23 L415 839.64 L414.52 840.65 L414.04 839.57 L413.56 840.07 L413.08 839.75 L412.6 839.4 L412.12 838.8 L411.64 839.02 L411.16 839.81 L410.68 839.29 L410.2 839 L409.72 839.48 L409.24 839.4 L408.76 840.15 L408.27 839.42 L407.79 838.89 L407.31 838.81 L406.83 839.48 L406.35 839.17 L405.87 838.76 L405.39 839.43 L404.91 838.31 L404.43 838.68 L403.95 838.87 L403.47 839.34 L402.99 838.82 L402.51 838.14 L402.03 838.73 L401.55 838.7 L401.07 838.32 L400.59 838.88 L400.1 837.32 L399.62 837.78 L399.14 837.92 L398.66 838.13 L398.18 838.59 L397.7 838.25 L397.22 839.11 L396.74 838.87 L396.26 839.06 L395.78 839.43 L395.3 838.29 L394.82 837.89 L394.34 838.12 L393.86 838.72 L393.38 838.78 L392.9 838.81 L392.42 839.29 L391.93 839.63 L391.45 839.21 L390.97 839.19 L390.49 838.78 L390.01 839.74 L389.53 840.72 L389.05 840.57 L388.57 839.33 L388.09 839.92 L387.61 839.61 L387.13 839.21 L386.65 838.69 L386.17 838.92 L385.69 838.84 L385.21 839.46 L384.73 839.46 L384.25 839.22 L383.76 840.02 L383.28 839.21 L382.8 840.44 L382.32 840 L381.84 840.2 L381.36 841.15 L380.88 841.37 L380.4 840.72 L379.92 841.6 L379.44 841.64 L378.96 841.72 L378.48 841.54 L378 842.12 L377.52 842.31 L377.04 840.83 L376.56 840.15 L376.08 840.77 L375.59 841.05 L375.11 841.15 L374.63 841.61 L374.15 841.66 L373.67 841.44 L373.19 841.59 L372.71 841.27 L372.23 840.66 L371.75 841.57 L371.27 841.19 L370.79 841.71 L370.31 842.85 L369.83 843.84 L369.35 843.68 L368.87 843.11 L368.39 842.64 L367.91 842.43 L367.42 842.05 L366.94 842.84 L366.46 842.54 L365.98 842.71 L365.5 842.81 L365.02 842.67 L364.54 842.37 L364.06 842.57 L363.58 843.25 L363.1 842.77 L362.62 843.04 L362.14 842.28 L361.66 842.67 L361.18 843.19 L360.7 843.92 L360.22 844.63 L359.74 844.85 L359.25 845.04 L358.77 845.27 L358.29 844.81 L357.81 845.01 L357.33 845.64 L356.85 845.57 L356.37 846.93 L355.89 847.05 L355.41 848.21 L354.93 849.14 L354.45 849.9 L353.97 850.48 L353.49 850.69 L353.01 851.21 L352.53 851.86 L352.05 852.84 L351.57 854.11 L351.08 854.97 L350.6 855.66 L350.12 856.71 L349.64 859.57 L349.16 861.91 L348.68 863.52 L348.2 867.56 L347.72 871.63 L347.24 880.09 Z" fill="#62c6f2" stroke="#62c6f2" stroke-width="0.5" stroke-linejoin="round"/>
<path d="M347.24 872.9 L347.72 865.19 L348.2 861.71 L348.68 858.32 L349.16 856.78 L349.64 854.51 L350.12 852.62 L350.6 851.83 L351.08 851.35 L351.57 850.29 L352.05 848.75 L352.53 847.72 L353.01 846.96 L353.49 846.42 L353.97 845.95 L354.45 845.8 L354.93 845.22 L355.41 844.53 L355.89 843.32 L356.37 842.96 L356.85 842.18 L357.33 842.31 L357.81 841.62 L358.29 841.47 L358.77 841.63 L359.25 841.5 L359.74 840.98 L360.22 841.02 L360.7 840.46 L361.18 839.78 L361.66 839.17 L362.14 838.66 L362.62 839.37 L363.1 839.2 L363.58 839.43 L364.06 838.91 L364.54 838.81 L365.02 838.64 L365.5 838.37 L365.98 838.56 L366.46 838.39 L366.94 838.57 L367.42 837.58 L367.91 837.88 L368.39 837.89 L368.87 838.59 L369.35 838.98 L369.83 838.99 L370.31 838.32 L370.79 837.81 L371.27 837.6 L371.75 837.78 L372.23 836.9 L372.71 837.37 L373.19 837.63 L373.67 837.27 L374.15 837.57 L374.63 837.28 L375.11 836.76 L375.59 836.78 L376.08 836.59 L376.56 836.59 L377.04 836.86 L377.52 838.04 L378 838.12 L378.48 837.68 L378.96 837.98 L379.44 837.76 L379.92 837.26 L380.4 836.41 L380.88 836.83 L381.36 836.79 L381.84 836.44 L382.32 836.04 L382.8 836.48 L383.28 835.5 L383.76 835.82 L384.25 835.28 L384.73 835.38 L385.21 835.21 L385.69 834.56 L386.17 834.47 L386.65 834.61 L387.13 835.17 L387.61 835.42 L388.09 835.91 L388.57 834.89 L389.05 835.53 L389.53 836.41 L390.01 835.37 L390.49 834.72 L390.97 834.87 L391.45 834.49 L391.93 834.86 L392.42 835.03 L392.9 834.71 L393.38 834.5 L393.86 834.68 L394.34 833.97 L394.82 833.79 L395.3 833.89 L395.78 834.53 L396.26 834.49 L396.74 834.65 L397.22 834.68 L397.7 834.35 L398.18 834.67 L398.66 834.57 L399.14 834.3 L399.62 834.27 L400.1 833.48 L400.59 834.52 L401.07 834.62 L401.55 835.16 L402.03 835.12 L402.51 834.06 L402.99 834.93 L403.47 835.05 L403.95 834.76 L404.43 834.77 L404.91 834.43 L405.39 835.15 L405.87 834.67 L406.35 835.08 L406.83 835.49 L407.31 835.06 L407.79 834.78 L408.27 835.04 L408.76 835.27 L409.24 835.18 L409.72 835.03 L410.2 834.98 L410.68 835.28 L411.16 836.02 L411.64 835.11 L412.12 834.88 L412.6 835.28 L413.08 835.7 L413.56 835.65 L414.04 835.48 L414.52 836.04 L415 835.02 L415.48 834.64 L415.96 834.64 L416.44 834.36 L416.93 834.18 L417.41 833.7 L417.89 833.69 L418.37 833.23 L418.85 832.75 L419.33 833.13 L419.81 833.46 L420.29 833.87 L420.77 833.91 L421.25 834.13 L421.73 833.98 L422.21 833.75 L422.69 833.48 L423.17 833.95 L423.65 833.44 L424.13 833.64 L424.61 833.72 L425.1 833.95 L425.58 834.73 L426.06 834.43 L426.54 835.02 L427.02 834.33 L427.5 834.24 L427.98 833.58 L428.46 833.46 L428.94 833.37 L429.42 833.02 L429.9 833.36 L430.38 832.99 L430.86 833.39 L431.34 833.54 L431.82 834.05 L432.3 833.94 L432.79 833.82 L433.27 834.21 L433.75 834.82 L434.23 834.78 L434.71 834.57 L435.19 834.64 L435.67 835.02 L436.15 835.21 L436.63 835.17 L437.11 836.09 L437.59 835.97 L438.07 835.07 L438.55 835.49 L439.03 835.38 L439.51 834.54 L439.99 834.3 L440.47 834.04 L440.96 834.28 L441.44 834.95 L441.92 833.75 L442.4 833.9 L442.88 834.04 L443.36 833.58 L443.84 833.57 L444.32 833.88 L444.8 834.58 L445.28 834.72 L445.76 834.83 L446.24 835.13 L446.72 835.43 L447.2 835.72 L447.68 835.58 L448.16 835.67 L448.64 835.33 L449.13 834.81 L449.61 834.7 L450.09 834.73 L450.57 834.12 L451.05 834.03 L451.53 834.81 L452.01 835.09 L452.49 834.92 L452.97 835.22 L453.45 834.78 L453.93 835.45 L454.41 836.01 L454.89 835.27 L455.37 834.86 L455.85 835.43 L456.33 835.17 L456.81 834.46 L457.3 834.92 L457.78 835.29 L458.26 835.57 L458.74 835.68 L459.22 836.06 L459.7 835.84 L460.18 836.06 L460.66 835.62 L461.14 834.42 L461.62 834.85 L462.1 834.4 L462.58 833.95 L463.06 835.02 L463.54 834.86 L464.02 834.78 L464.5 834.87 L464.98 834.47 L465.47 834.68 L465.95 834.53 L466.43 834.71 L466.91 834.75 L467.39 835.05 L467.87 834.04 L468.35 834.23 L468.83 834.81 L469.31 834.01 L469.79 833.56 L470.27 833.94 L470.75 834.42 L471.23 834.81 L471.71 834.31 L472.19 834.57 L472.67 834.93 L473.15 834.57 L473.64 834.75 L474.12 834.79 L474.6 834.01 L475.08 833.85 L475.56 833.57 L476.04 833.69 L476.52 833.43 L477 833.82 L477.48 833.64 L477.96 833.48 L478.44 833.94 L478.92 834.63 L479.4 834.41 L479.88 834.5 L480.36 834.28 L480.84 834.59 L481.32 834.36 L481.81 834.02 L482.29 833.19 L482.77 832.79 L483.25 833.06 L483.73 832.83 L484.21 833.49 L484.69 833.25 L485.17 833.49 L485.65 833.18 L486.13 833.35 L486.61 833.71 L487.09 834.17 L487.57 833.72 L488.05 833.86 L488.53 833.7 L489.01 833.67 L489.49 834.67 L489.98 834.34 L490.46 834.49 L490.94 834.29 L491.42 834.1 L491.9 834.88 L492.38 834.85 L492.86 834.73 L493.34 834.46 L493.82 834.03 L494.3 834.35 L494.78 834.41 L495.26 834.11 L495.74 834.87 L496.22 833.96 L496.7 834.39 L497.18 833.81 L497.66 833.84 L498.15 833.16 L498.63 832.99 L499.11 833.29 L499.59 834.19 L500.07 834.12 L500.55 833.98 L501.03 833.78 L501.51 834.36 L501.99 834.6 L502.47 834.76 L502.95 834.45 L503.43 834.67 L503.91 834.52 L504.39 833.99 L504.87 834.12 L505.35 833.5 L505.83 833.45 L506.32 833.63 L506.8 833.21 L507.28 833.13 L507.76 833.38 L508.24 833.68 L508.72 833.68 L509.2 833.52 L509.68 833.07 L510.16 833.08 L510.64 833.44 L511.12 833.99 L511.6 833.76 L512.08 833.52 L512.56 833.05 L513.04 833.36 L513.52 833.89 L514 833.43 L514.49 833.49 L514.97 833.94 L515.45 833.12 L515.93 832.81 L516.41 832.89 L516.89 832.87 L517.37 833.25 L517.85 832.84 L518.33 833.09 L518.81 833.28 L519.29 833.36 L519.77 833.75 L520.25 833.17 L520.73 832.47 L521.21 832.3 L521.69 833.31" stroke="#18a3e2" stroke-width="0.9" fill="none" stroke-linejoin="round"/>
<path d="M347.24 859.96 L347.72 851.92 L348.2 847.34 L348.68 843.85 L349.16 842.3 L349.64 839.55 L350.12 836.88 L350.6 835.33 L351.08 834.11 L351.57 833.4 L352.05 831.66 L352.53 829.97 L353.01 829.55 L353.49 829.35 L353.97 829.01 L354.45 828.52 L354.93 827.07 L355.41 826.24 L355.89 825.2 L356.37 824.26 L356.85 823.83 L357.33 822.79 L357.81 821.8 L358.29 822.04 L358.77 821.18 L359.25 820.86 L359.74 820.18 L360.22 820.67 L360.7 820.69 L361.18 820.44 L361.66 820.15 L362.14 818.99 L362.62 818.75 L363.1 817.72 L363.58 817.09 L364.06 817.11 L364.54 816.68 L365.02 816 L365.5 816.03 L365.98 816.43 L366.46 815.45 L366.94 815.68 L367.42 814.17 L367.91 814.37 L368.39 815.02 L368.87 815.39 L369.35 815.48 L369.83 815.13 L370.31 814.43 L370.79 814.45 L371.27 814.83 L371.75 813.55 L372.23 813.58 L372.71 813.03 L373.19 813.41 L373.67 813.13 L374.15 813.08 L374.63 812.98 L375.11 811.68 L375.59 810.85 L376.08 811.38 L376.56 811.19 L377.04 811.68 L377.52 811.18 L378 810.99 L378.48 810.72 L378.96 810.83 L379.44 810.29 L379.92 809.77 L380.4 809.69 L380.88 809.9 L381.36 809.33 L381.84 809.66 L382.32 808.67 L382.8 808.56 L383.28 808.22 L383.76 808.91 L384.25 808.48 L384.73 808.25 L385.21 808.36 L385.69 808.08 L386.17 807.87 L386.65 808.38 L387.13 806.96 L387.61 806.48 L388.09 806.93 L388.57 806.32 L389.05 806.72 L389.53 807.31 L390.01 807.18 L390.49 806.62 L390.97 806.18 L391.45 806.28 L391.93 806.05 L392.42 806.37 L392.9 806.84 L393.38 806.52 L393.86 806.8 L394.34 807.22 L394.82 807.24 L395.3 806.36 L395.78 805.89 L396.26 805.84 L396.74 805.69 L397.22 805.01 L397.7 804.19 L398.18 804.66 L398.66 804.37 L399.14 803.46 L399.62 803.27 L400.1 803.36 L400.59 803 L401.07 803.3 L401.55 803.09 L402.03 802.91 L402.51 803.3 L402.99 803.13 L403.47 802.77 L403.95 803.09 L404.43 802.36 L404.91 802.85 L405.39 802.05 L405.87 801.83 L406.35 801.88 L406.83 801.34 L407.31 801.24 L407.79 801.79 L408.27 801.67 L408.76 801.53 L409.24 800.79 L409.72 801.32 L410.2 800.9 L410.68 801.2 L411.16 801.34 L411.64 801.11 L412.12 801.44 L412.6 801.59 L413.08 801.27 L413.56 801.63 L414.04 801.79 L414.52 801.46 L415 801.52 L415.48 801.08 L415.96 801.29 L416.44 801.26 L416.93 801.48 L417.41 801.4 L417.89 801.86 L418.37 802.43 L418.85 802.21 L419.33 803.06 L419.81 804.26 L420.29 804.62 L420.77 804.15 L421.25 803.88 L421.73 803.81 L422.21 804.07 L422.69 803.03 L423.17 803.35 L423.65 802.93 L424.13 803.77 L424.61 803.19 L425.1 802.86 L425.58 802.45 L426.06 802.46 L426.54 802.74 L427.02 803.79 L427.5 802.9 L427.98 802.65 L428.46 802.9 L428.94 803.23 L429.42 802.82 L429.9 803.12 L430.38 803.29 L430.86 803.36 L431.34 803.75 L431.82 803.08 L432.3 802.46 L432.79 802.81 L433.27 802.21 L433.75 801.52 L434.23 802.09 L434.71 801.55 L435.19 801.73 L435.67 801.59 L436.15 801.22 L436.63 800.7 L437.11 800.24 L437.59 801.13 L438.07 801.22 L438.55 800.31 L439.03 799.53 L439.51 798.99 L439.99 799.41 L440.47 800.16 L440.96 799.32 L441.44 798.27 L441.92 797.87 L442.4 798.03 L442.88 798.63 L443.36 798.29 L443.84 798.11 L444.32 797.83 L444.8 797.61 L445.28 798.35 L445.76 797.99 L446.24 797.45 L446.72 798.21 L447.2 798.18 L447.68 798.49 L448.16 798.1 L448.64 796.38 L449.13 795.73 L449.61 796.06 L450.09 796.07 L450.57 796.46 L451.05 796.69 L451.53 796.19 L452.01 796.5 L452.49 795.32 L452.97 794.59 L453.45 795.01 L453.93 794.52 L454.41 794.66 L454.89 794.72 L455.37 794.31 L455.85 795.26 L456.33 795.12 L456.81 794.75 L457.3 793.98 L457.78 794.56 L458.26 794.24 L458.74 794.68 L459.22 794.74 L459.7 795.68 L460.18 795.59 L460.66 794.79 L461.14 794.46 L461.62 793.6 L462.1 793.31 L462.58 793.84 L463.06 793.69 L463.54 793.64 L464.02 793.07 L464.5 793.64 L464.98 793.71 L465.47 792.05 L465.95 792.26 L466.43 792.3 L466.91 792.59 L467.39 794.01 L467.87 793.78 L468.35 793.89 L468.83 793.7 L469.31 794.13 L469.79 793.4 L470.27 792.74 L470.75 793.33 L471.23 793.7 L471.71 793.24 L472.19 792.98 L472.67 792.66 L473.15 792.16 L473.64 792.65 L474.12 793.18 L474.6 792.96 L475.08 792.63 L475.56 792.44 L476.04 791.96 L476.52 791.7 L477 791.6 L477.48 792.26 L477.96 792.31 L478.44 792.28 L478.92 792.57 L479.4 792.62 L479.88 792.43 L480.36 792.66 L480.84 792.55 L481.32 791.89 L481.81 791.89 L482.29 792.99 L482.77 793.07 L483.25 792.11 L483.73 791.91 L484.21 791.69 L484.69 792.31 L485.17 791.86 L485.65 792.47 L486.13 792.72 L486.61 792.39 L487.09 790.73 L487.57 790.2 L488.05 790.68 L488.53 791.06 L489.01 790.65 L489.49 791.38 L489.98 791.67 L490.46 791.35 L490.94 791 L491.42 790.86 L491.9 790.03 L492.38 790.81 L492.86 789.68 L493.34 789.77 L493.82 789.87 L494.3 790.27 L494.78 789.71 L495.26 789.74 L495.74 789.62 L496.22 789.93 L496.7 789.87 L497.18 789.98 L497.66 789.79 L498.15 789.83 L498.63 789.8 L499.11 789.71 L499.59 789.43 L500.07 789.37 L500.55 789.33 L501.03 788.97 L501.51 788.91 L501.99 789.73 L502.47 789.25 L502.95 788.76 L503.43 788.29 L503.91 788.54 L504.39 788.99 L504.87 788.71 L505.35 788.71 L505.83 789.35 L506.32 789.5 L506.8 789 L507.28 789 L507.76 788.81 L508.24 788.41 L508.72 789.52 L509.2 789.11 L509.68 790.16 L510.16 789.61 L510.64 789.61 L511.12 789.14 L511.6 788.63 L512.08 789.18 L512.56 788.66 L513.04 788.33 L513.52 789.97 L514 789.95 L514.49 789.7 L514.97 790 L515.45 789.95 L515.93 789.75 L516.41 789.22 L516.89 788.57 L517.37 789.02 L517.85 789.32 L518.33 790.12 L518.81 789.45 L519.29 789.54 L519.77 789.11 L520.25 788.9 L520.73 789.53 L521.21 789.25 L521.69 790.28 L521.69 802.01 L521.21 801.49 L520.73 801.62 L520.25 801 L519.77 801.24 L519.29 801.64 L518.81 801.87 L518.33 802.26 L517.85 801.76 L517.37 801.8 L516.89 801.69 L516.41 802.25 L515.93 802.22 L515.45 803.02 L514.97 802.41 L514.49 802.38 L514 801.83 L513.52 801.55 L513.04 800.62 L512.56 799.98 L512.08 800.22 L511.6 800.99 L511.12 800.67 L510.64 801.55 L510.16 801.77 L509.68 801.95 L509.2 801.3 L508.72 801.7 L508.24 800.99 L507.76 800.94 L507.28 801.05 L506.8 801.25 L506.32 801.33 L505.83 801.34 L505.35 800.39 L504.87 800.96 L504.39 800.74 L503.91 800.96 L503.43 799.8 L502.95 800.65 L502.47 801.09 L501.99 801.72 L501.51 800.89 L501.03 801.15 L500.55 800.96 L500.07 801.75 L499.59 800.8 L499.11 801.24 L498.63 801.44 L498.15 801.18 L497.66 801.25 L497.18 801.35 L496.7 801.49 L496.22 801.31 L495.74 800.85 L495.26 801.61 L494.78 801.75 L494.3 802.15 L493.82 802.15 L493.34 801.8 L492.86 801.53 L492.38 802.32 L491.9 801.93 L491.42 802.06 L490.94 801.98 L490.46 802.97 L489.98 803.18 L489.49 803.21 L489.01 802.91 L488.53 802.92 L488.05 802.68 L487.57 802.9 L487.09 802.79 L486.61 803.85 L486.13 803.95 L485.65 804.19 L485.17 803.97 L484.69 804.53 L484.21 803.74 L483.73 803.76 L483.25 803.37 L482.77 804.22 L482.29 804.2 L481.81 803.66 L481.32 803.55 L480.84 803.48 L480.36 803.5 L479.88 802.6 L479.4 803.32 L478.92 803.64 L478.44 804.04 L477.96 804.64 L477.48 803.74 L477 803.56 L476.52 802.88 L476.04 803.49 L475.56 804.23 L475.08 804.16 L474.6 804.8 L474.12 805.03 L473.64 804.7 L473.15 804.15 L472.67 803.94 L472.19 804.11 L471.71 804.92 L471.23 805.26 L470.75 804.25 L470.27 803.88 L469.79 804.5 L469.31 805.08 L468.83 804.85 L468.35 804.95 L467.87 804.74 L467.39 805.14 L466.91 804.43 L466.43 803.63 L465.95 803.06 L465.47 803.03 L464.98 804.55 L464.5 804.55 L464.02 805.03 L463.54 804.84 L463.06 804.76 L462.58 805.18 L462.1 804.61 L461.62 804.58 L461.14 805.83 L460.66 805.52 L460.18 806.34 L459.7 806.19 L459.22 805.2 L458.74 804.92 L458.26 805.39 L457.78 805.21 L457.3 804.76 L456.81 805.05 L456.33 805.59 L455.85 805.63 L455.37 805.29 L454.89 805.43 L454.41 805.71 L453.93 806.01 L453.45 805.68 L452.97 805.71 L452.49 806.38 L452.01 807.51 L451.53 807.34 L451.05 807.12 L450.57 807.01 L450.09 806.45 L449.61 807.45 L449.13 807.03 L448.64 807.33 L448.16 808.35 L447.68 808.33 L447.2 808.13 L446.72 808.52 L446.24 808.02 L445.76 808.53 L445.28 809.02 L444.8 808.15 L444.32 808.35 L443.84 808.88 L443.36 809.25 L442.88 809.44 L442.4 808.86 L441.92 808.37 L441.44 808.71 L440.96 809.84 L440.47 810.07 L439.99 809.87 L439.51 809.38 L439.03 810.04 L438.55 810.6 L438.07 811.1 L437.59 811.4 L437.11 810.44 L436.63 810.92 L436.15 811.09 L435.67 811.28 L435.19 811.92 L434.71 812.65 L434.23 812.74 L433.75 812.36 L433.27 811.71 L432.79 812.31 L432.3 812.12 L431.82 812.72 L431.34 813.21 L430.86 812.58 L430.38 812.38 L429.9 811.96 L429.42 811.9 L428.94 812.47 L428.46 812.64 L427.98 813.05 L427.5 812.95 L427.02 813.83 L426.54 813.1 L426.06 812.22 L425.58 812.36 L425.1 812.89 L424.61 812.65 L424.13 813.29 L423.65 812.9 L423.17 812.74 L422.69 813.16 L422.21 813.58 L421.73 812.88 L421.25 813.08 L420.77 813.17 L420.29 813.23 L419.81 814.17 L419.33 813.09 L418.85 812.63 L418.37 812.56 L417.89 812.29 L417.41 812.21 L416.93 811.95 L416.44 811.6 L415.96 810.98 L415.48 811.13 L415 811.81 L414.52 811.06 L414.04 811.33 L413.56 811.56 L413.08 811.49 L412.6 810.79 L412.12 810.76 L411.64 811.45 L411.16 811.28 L410.68 810.55 L410.2 810.94 L409.72 811.03 L409.24 810.38 L408.76 810.75 L408.27 811.35 L407.79 811.02 L407.31 811 L406.83 811.08 L406.35 811.87 L405.87 811.04 L405.39 812.02 L404.91 812.19 L404.43 811.93 L403.95 812.03 L403.47 811.88 L402.99 812.07 L402.51 811.93 L402.03 811.89 L401.55 812.11 L401.07 812.17 L400.59 812.13 L400.1 812.11 L399.62 811.94 L399.14 812.26 L398.66 813.34 L398.18 814.17 L397.7 814.06 L397.22 814.62 L396.74 815.14 L396.26 815.42 L395.78 815.21 L395.3 814.67 L394.82 816.03 L394.34 815.54 L393.86 814.94 L393.38 815.06 L392.9 814.92 L392.42 815.04 L391.93 815.26 L391.45 815.55 L390.97 815.03 L390.49 815.35 L390.01 816.29 L389.53 816.52 L389.05 815.75 L388.57 815.57 L388.09 815.91 L387.61 815.72 L387.13 816.74 L386.65 817.63 L386.17 816.56 L385.69 817.14 L385.21 817.12 L384.73 817.05 L384.25 817.55 L383.76 817.51 L383.28 816.81 L382.8 817.39 L382.32 818.05 L381.84 818.75 L381.36 818.68 L380.88 818.81 L380.4 819.18 L379.92 818.87 L379.44 819.45 L378.96 819.35 L378.48 819.73 L378 818.91 L377.52 819.79 L377.04 820.2 L376.56 819.14 L376.08 819.91 L375.59 819.79 L375.11 819.89 L374.63 821.56 L374.15 821.36 L373.67 821.62 L373.19 821.98 L372.71 821.62 L372.23 822.24 L371.75 822.22 L371.27 823.08 L370.79 823.36 L370.31 823.45 L369.83 824.13 L369.35 824.29 L368.87 824.12 L368.39 824.11 L367.91 823.73 L367.42 823.33 L366.94 824.64 L366.46 824.64 L365.98 825.2 L365.5 824.91 L365.02 824.55 L364.54 825.28 L364.06 825.73 L363.58 825.78 L363.1 826.18 L362.62 826.92 L362.14 826.85 L361.66 828.53 L361.18 829.09 L360.7 828.52 L360.22 828.99 L359.74 829.05 L359.25 829.54 L358.77 828.94 L358.29 829.86 L357.81 829.78 L357.33 831.08 L356.85 832.21 L356.37 832.64 L355.89 833.31 L355.41 835.03 L354.93 835.8 L354.45 838.09 L353.97 837.93 L353.49 838.3 L353.01 838.66 L352.53 839.03 L352.05 840.21 L351.57 842.58 L351.08 844.05 L350.6 845.13 L350.12 846.85 L349.64 849.81 L349.16 853.13 L348.68 855.13 L348.2 860.33 L347.72 865.6 L347.24 875.55 Z" fill="#ef6f76" stroke="#ef6f76" stroke-width="0.5" stroke-linejoin="round"/>
<path d="M347.24 867.5 L347.72 858.61 L348.2 854.01 L348.68 849.64 L349.16 847.41 L349.64 844.52 L350.12 841.98 L350.6 840.32 L351.08 838.99 L351.57 837.82 L352.05 835.92 L352.53 834.57 L353.01 834.04 L353.49 833.56 L353.97 833.13 L354.45 833.05 L354.93 831.93 L355.41 830.96 L355.89 829.5 L356.37 828.98 L356.85 828.18 L357.33 827.12 L357.81 826.21 L358.29 826.38 L358.77 825.43 L359.25 825.55 L359.74 824.78 L360.22 824.75 L360.7 824.69 L361.18 824.9 L361.66 824.5 L362.14 823.04 L362.62 823.14 L363.1 822.21 L363.58 821.51 L364.06 821.64 L364.54 821.03 L365.02 820.38 L365.5 820.55 L365.98 820.73 L366.46 820.11 L366.94 819.93 L367.42 819.02 L367.91 819.04 L368.39 819.67 L368.87 819.61 L369.35 819.98 L369.83 819.36 L370.31 818.85 L370.79 818.87 L371.27 819.02 L371.75 818.31 L372.23 818.25 L372.71 817.46 L373.19 817.74 L373.67 817.59 L374.15 817.54 L374.63 817.67 L375.11 816.12 L375.59 815.36 L376.08 815.74 L376.56 815.4 L377.04 816.22 L377.52 815.48 L378 814.93 L378.48 815.06 L378.96 815.1 L379.44 814.81 L379.92 814.43 L380.4 814.43 L380.88 814.57 L381.36 814.36 L381.84 814.22 L382.32 813.53 L382.8 813.26 L383.28 812.94 L383.76 813.46 L384.25 813.27 L384.73 813.09 L385.21 812.98 L385.69 812.7 L386.17 812.61 L386.65 813.03 L387.13 812.26 L387.61 811.66 L388.09 811.78 L388.57 811.36 L389.05 811.66 L389.53 812 L390.01 811.76 L390.49 810.8 L390.97 810.76 L391.45 811.29 L391.93 810.91 L392.42 810.94 L392.9 811 L393.38 810.56 L393.86 811.1 L394.34 811.51 L394.82 811.66 L395.3 810.67 L395.78 810.33 L396.26 810.33 L396.74 810.33 L397.22 809.71 L397.7 808.96 L398.18 809.2 L398.66 808.92 L399.14 807.78 L399.62 807.63 L400.1 807.87 L400.59 807.74 L401.07 807.7 L401.55 807.39 L402.03 807.27 L402.51 807.51 L402.99 807.51 L403.47 807.27 L403.95 807.53 L404.43 807.38 L404.91 807.68 L405.39 806.95 L405.87 806.23 L406.35 806.68 L406.83 806.25 L407.31 806.18 L407.79 806.13 L408.27 806.21 L408.76 806.02 L409.24 805.54 L409.72 806.12 L410.2 805.6 L410.68 805.85 L411.16 806.42 L411.64 806.41 L412.12 806.14 L412.6 806.26 L413.08 806.2 L413.56 806.45 L414.04 806.74 L414.52 806.33 L415 806.86 L415.48 806.45 L415.96 806.44 L416.44 806.72 L416.93 806.91 L417.41 807.1 L417.89 807.15 L418.37 807.2 L418.85 807.29 L419.33 808.12 L419.81 808.83 L420.29 808.35 L420.77 808.42 L421.25 808.47 L421.73 808.36 L422.21 808.69 L422.69 807.85 L423.17 807.89 L423.65 808.01 L424.13 808.49 L424.61 808.05 L425.1 807.81 L425.58 807.31 L426.06 807.2 L426.54 807.85 L427.02 808.46 L427.5 807.74 L427.98 808.02 L428.46 807.96 L428.94 807.9 L429.42 807.54 L429.9 807.21 L430.38 807.6 L430.86 807.68 L431.34 808.18 L431.82 807.55 L432.3 807.36 L432.79 807.82 L433.27 807.01 L433.75 806.81 L434.23 807.07 L434.71 807 L435.19 806.94 L435.67 806.55 L436.15 806.15 L436.63 806.11 L437.11 805.6 L437.59 806.42 L438.07 806.04 L438.55 805.27 L439.03 804.52 L439.51 803.97 L439.99 804.28 L440.47 804.76 L440.96 804.52 L441.44 803.22 L441.92 803.11 L442.4 803.43 L442.88 804.02 L443.36 803.67 L443.84 803.62 L444.32 803.16 L444.8 802.9 L445.28 803.73 L445.76 803.39 L446.24 802.73 L446.72 802.78 L447.2 803.04 L447.68 803.2 L448.16 803.37 L448.64 802.01 L449.13 801.31 L449.61 801.62 L450.09 801 L450.57 801.51 L451.05 801.65 L451.53 801.81 L452.01 801.67 L452.49 801.18 L452.97 800.21 L453.45 800 L453.93 800.16 L454.41 800.15 L454.89 800.28 L455.37 800.11 L455.85 800.49 L456.33 800.29 L456.81 800.07 L457.3 799.69 L457.78 800.12 L458.26 799.91 L458.74 799.79 L459.22 800.14 L459.7 800.87 L460.18 800.8 L460.66 800.14 L461.14 800.11 L461.62 799.01 L462.1 798.87 L462.58 799.29 L463.06 799.34 L463.54 799.12 L464.02 798.94 L464.5 799.1 L464.98 798.92 L465.47 797.75 L465.95 797.7 L466.43 797.96 L466.91 798.41 L467.39 799.27 L467.87 799.09 L468.35 799.18 L468.83 799.08 L469.31 799.2 L469.79 798.72 L470.27 798.23 L470.75 798.58 L471.23 799.1 L471.71 798.79 L472.19 798.1 L472.67 797.97 L473.15 797.84 L473.64 798.52 L474.12 798.67 L474.6 798.3 L475.08 798.11 L475.56 798.1 L476.04 797.85 L476.52 797.52 L477 797.58 L477.48 797.94 L477.96 798.49 L478.44 798.22 L478.92 798.16 L479.4 798.1 L479.88 797.52 L480.36 797.8 L480.84 797.84 L481.32 797.48 L481.81 797.84 L482.29 798.63 L482.77 798.55 L483.25 797.89 L483.73 797.95 L484.21 797.82 L484.69 798.37 L485.17 797.49 L485.65 798.02 L486.13 797.94 L486.61 797.65 L487.09 796.53 L487.57 796.42 L488.05 796.66 L488.53 797.13 L489.01 796.98 L489.49 797.22 L489.98 797.13 L490.46 796.78 L490.94 796.02 L491.42 796.4 L491.9 795.66 L492.38 796.45 L492.86 795.42 L493.34 795.69 L493.82 795.75 L494.3 795.82 L494.78 795.56 L495.26 795.46 L495.74 795.47 L496.22 795.61 L496.7 795.64 L497.18 795.38 L497.66 795.42 L498.15 795.49 L498.63 795.84 L499.11 795.49 L499.59 795.03 L500.07 795.29 L500.55 794.72 L501.03 794.75 L501.51 794.73 L501.99 795.48 L502.47 795.1 L502.95 794.58 L503.43 793.92 L503.91 794.5 L504.39 794.72 L504.87 794.57 L505.35 794.57 L505.83 795.06 L506.32 795.15 L506.8 794.86 L507.28 794.83 L507.76 795.07 L508.24 794.81 L508.72 795.65 L509.2 795.47 L509.68 795.75 L510.16 795.84 L510.64 795.41 L511.12 794.7 L511.6 794.69 L512.08 794.8 L512.56 794.26 L513.04 794.2 L513.52 795.37 L514 795.58 L514.49 795.76 L514.97 795.89 L515.45 796.32 L515.93 795.77 L516.41 795.67 L516.89 794.99 L517.37 795.36 L517.85 795.51 L518.33 796.03 L518.81 795.74 L519.29 795.46 L519.77 795.12 L520.25 795.17 L520.73 795.88 L521.21 795.71 L521.69 796.46" stroke="#e31f29" stroke-width="0.9" fill="none" stroke-linejoin="round"/>
<path d="M338.5 784.88 L346.72 784.88 L346.72 788.12 L338.5 788.12 Z" fill="#ef6f76"/>
<path d="M338.5 787.01 L338.98 786.38 L339.46 785.8 L339.94 785.67 L340.42 785.86 L340.9 786.47 L341.39 786.32 L341.87 786.63 L342.35 787.2 L342.83 786.75 L343.31 785.99 L343.79 786.37 L344.27 786.67 L344.75 787.07 L345.23 786.55 L345.71 786.81 L346.19 786.48 L346.67 786.24 L346.7 786.5 L346.7 867.5" stroke="#e31f29" stroke-width="0.9" fill="none" stroke-linejoin="round"/>
<circle cx="340.25" cy="786.5" r="0.7" fill="#35b5ee"/>
<circle cx="343.31" cy="786.5" r="0.7" fill="#35b5ee"/>
<circle cx="345.49" cy="786.5" r="0.7" fill="#35b5ee"/>
<line x1="347.24" y1="860.75" x2="347.24" y2="876.95" stroke="#35b5ee" stroke-width="0.8"/>
<line x1="345.64" y1="876.95" x2="348.84" y2="876.95" stroke="#35b5ee" stroke-width="0.7"/>
<line x1="345.64" y1="874.25" x2="348.84" y2="874.25" stroke="#35b5ee" stroke-width="0.6"/>
<line x1="347.24" y1="851.3" x2="347.24" y2="870.2" stroke="#e31f29" stroke-width="0.8"/>
<line x1="345.64" y1="868.85" x2="348.84" y2="868.85" stroke="#e31f29" stroke-width="0.6"/>
<line x1="345.64" y1="864.8" x2="348.84" y2="864.8" stroke="#e31f29" stroke-width="0.6"/>
</g>
<line x1="402.3" y1="890.7" x2="409.3" y2="890.7" stroke="#35b5ee" stroke-width="1"/>
<text x="410.7" y="894.3" font-size="11.7" text-anchor="start" fill="#1a1a1a">Polycomb body</text>
<line x1="402.3" y1="908.6" x2="409.3" y2="908.6" stroke="#e8313a" stroke-width="1"/>
<text x="410.7" y="912.2" font-size="11.7" text-anchor="start" fill="#1a1a1a">Non-Polycomb body</text>
<line x1="604" y1="756.3" x2="685" y2="756.3" stroke="#383838" stroke-width="1"/>
<line x1="604" y1="915" x2="685" y2="915" stroke="#383838" stroke-width="1"/>
<line x1="604.5" y1="756.3" x2="604.5" y2="915" stroke="#383838" stroke-width="1"/>
<line x1="684.5" y1="756.3" x2="684.5" y2="915" stroke="#383838" stroke-width="1"/>
<line x1="602" y1="763.9" x2="604.5" y2="763.9" stroke="#383838" stroke-width="0.9"/>
<text x="600.2" y="768.6" font-size="11.9" text-anchor="end" fill="#1a1a1a">1.8</text>
<line x1="602" y1="801.6" x2="604.5" y2="801.6" stroke="#383838" stroke-width="0.9"/>
<text x="600.2" y="806.3" font-size="11.9" text-anchor="end" fill="#1a1a1a">1.5</text>
<line x1="602" y1="839.1" x2="604.5" y2="839.1" stroke="#383838" stroke-width="0.9"/>
<text x="600.2" y="843.8" font-size="11.9" text-anchor="end" fill="#1a1a1a">1.2</text>
<line x1="602" y1="876.2" x2="604.5" y2="876.2" stroke="#383838" stroke-width="0.9"/>
<text x="600.2" y="880.9" font-size="11.9" text-anchor="end" fill="#1a1a1a">0.9</text>
<line x1="602" y1="913.2" x2="604.5" y2="913.2" stroke="#383838" stroke-width="0.9"/>
<text x="600.2" y="917.9" font-size="11.9" text-anchor="end" fill="#1a1a1a">0.6</text>
<line x1="626.4" y1="763.4" x2="626.4" y2="890.5" stroke="#151515" stroke-width="0.85"/>
<rect x="619.55" y="803.9" width="13.7" height="42.6" fill="#00adee" stroke="#111" stroke-width="0.9"/>
<line x1="619.55" y1="825.5" x2="633.25" y2="825.5" stroke="#1a1a1a" stroke-width="0.8"/>
<line x1="662.5" y1="813" x2="662.5" y2="907.9" stroke="#151515" stroke-width="0.85"/>
<rect x="655.65" y="848.4" width="13.7" height="36.3" fill="#ec1c24" stroke="#111" stroke-width="0.9"/>
<line x1="655.65" y1="863.4" x2="669.35" y2="863.4" stroke="#1a1a1a" stroke-width="0.8"/>
<line x1="626.4" y1="915" x2="626.4" y2="917.6" stroke="#383838" stroke-width="0.9"/>
<text x="631.6" y="926.3" font-size="12.1" text-anchor="end" fill="#1a1a1a" transform="rotate(-45 631.6 926.3)">Body</text>
<line x1="662.5" y1="915" x2="662.5" y2="917.6" stroke="#383838" stroke-width="0.9"/>
<text x="667.7" y="926.3" font-size="12.1" text-anchor="end" fill="#1a1a1a" transform="rotate(-45 667.7 926.3)">Non-Body</text>
<text x="574.8" y="835" font-size="11.7" text-anchor="middle" fill="#1a1a1a" transform="rotate(-90 574.8 835)">Mean enrichment</text>
</svg>
</body></html>
